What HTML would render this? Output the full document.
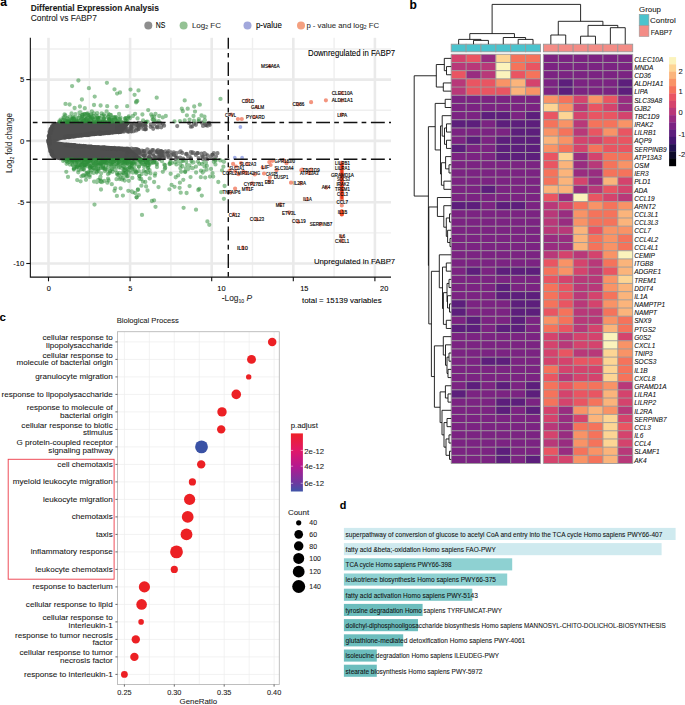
<!DOCTYPE html><html><head><meta charset="utf-8"><style>html,body{margin:0;padding:0;background:#fff;width:685px;height:705px;overflow:hidden}svg{display:block;font-family:"Liberation Sans",sans-serif}text{stroke:currentColor;stroke-width:0.08px}.vl text{stroke-width:0.14px}</style></head><body>
<svg width="685" height="705" viewBox="0 0 685 705">
<g stroke="#efefef" stroke-width="1.4">
<line x1="89.3" y1="37.8" x2="89.3" y2="277.1"/>
<line x1="170.9" y1="37.8" x2="170.9" y2="277.1"/>
<line x1="252.5" y1="37.8" x2="252.5" y2="277.1"/>
<line x1="334.1" y1="37.8" x2="334.1" y2="277.1"/>
<line x1="30.35" y1="48.95" x2="391" y2="48.95"/>
<line x1="30.35" y1="110.25" x2="391" y2="110.25"/>
<line x1="30.35" y1="171.55" x2="391" y2="171.55"/>
<line x1="30.35" y1="232.85" x2="391" y2="232.85"/>
</g>
<g stroke="#eaeaea" stroke-width="2.6">
<line x1="48.5" y1="37.8" x2="48.5" y2="277.1"/>
<line x1="130.1" y1="37.8" x2="130.1" y2="277.1"/>
<line x1="211.7" y1="37.8" x2="211.7" y2="277.1"/>
<line x1="293.3" y1="37.8" x2="293.3" y2="277.1"/>
<line x1="374.9" y1="37.8" x2="374.9" y2="277.1"/>
<line x1="30.35" y1="79.6" x2="391" y2="79.6"/>
<line x1="30.35" y1="140.9" x2="391" y2="140.9"/>
<line x1="30.35" y1="202.2" x2="391" y2="202.2"/>
<line x1="30.35" y1="263.5" x2="391" y2="263.5"/>
</g>
<path d="M47 140.9L47.02 139.59L47.09 138.27L47.21 136.96L47.38 135.65L47.61 134.33L47.88 133.02L48.23 131.71L48.63 130.39L49.12 129.08L49.7 127.76L50.4 126.45L51.25 125.14L52.33 123.82L53.85 122.51L59 121.61L127.65 121.61L130.1 123.49L121.12 133.71L117.97 133.97L114.81 134.23L111.65 134.5L108.49 134.77L105.33 135.05L102.18 135.33L99.02 135.61L95.86 135.91L92.7 136.21L89.54 136.51L86.39 136.83L83.23 137.15L80.07 137.49L76.91 137.84L73.76 138.21L70.6 138.59L67.44 139.01L64.28 139.46L61.12 139.98L57.97 140.68Z" fill="#4f4f4f"/>
<path d="M47 140.9L47.02 142.21L47.1 143.53L47.23 144.84L47.4 146.15L47.64 147.47L47.93 148.78L48.29 150.09L48.73 151.41L49.25 152.72L49.87 154.04L50.62 155.35L51.55 156.66L52.77 157.98L54.62 159.29L60 160.19L139.89 160.19L142.34 158.31L128.47 147.04L124.94 146.86L121.42 146.66L117.89 146.47L114.37 146.27L110.84 146.06L107.32 145.85L103.79 145.63L100.27 145.41L96.74 145.18L93.22 144.94L89.69 144.7L86.17 144.44L82.64 144.17L79.12 143.89L75.59 143.59L72.07 143.27L68.54 142.91L65.02 142.52L61.49 142.05L57.97 141.41Z" fill="#4f4f4f"/>
<path d="M47.6 138.5L56 139.6L59.8 140.85L56 142.1L47.6 143.2Z" fill="#4f4f4f"/>
<path d="M70.26 145.9h0M197.88 153.2h0M205.28 125.05h0M131.86 124.08h0M48.98 136.38h0M88.24 133.9h0M217.49 153.18h0M71.58 136.08h0M121.37 129.79h0M102.49 133.24h0M99.29 132.72h0M119.53 124.18h0M132.43 149.67h0M132.22 127.31h0M69.65 145.91h0M124 149.66h0M76.41 146.16h0M76.94 145.81h0M107.06 132.01h0M120.24 130.9h0M160.71 151.02h0M119.23 129.8h0M118.3 131.24h0M131.1 150.04h0M159.05 152.68h0M113.84 148.85h0M81.29 135.37h0M163.27 152.05h0M138.74 153.38h0M158.92 158.1h0M127.46 152.67h0M68.88 137.22h0M138.04 149.94h0M119.03 148.06h0M177.14 157.67h0M145.23 128.84h0M134.02 151.37h0M98.47 133.3h0M123.67 149.54h0M67.79 145.42h0M119.68 128.47h0M143.91 155.96h0M100.28 133.96h0M133.45 125.85h0M189.07 123.07h0M160.13 152.75h0M203.1 156.66h0M51.28 130.65h0M108.61 148.69h0M79.59 145.71h0M123.8 131.73h0M101.98 148.19h0M50.76 131.53h0M48.38 141.85h0M205.55 158.56h0M121.84 148.59h0M156.99 127.35h0M128.55 131.55h0M66.18 144.62h0M50.37 129.68h0M100.69 132.73h0M119.23 148.28h0M130.74 130.43h0M203.02 125.92h0M148.89 158.33h0M139.09 125.44h0M131.42 131.39h0M195.83 155h0M192.21 126.41h0M50.46 132.6h0M162.69 155.48h0M51.51 154.3h0M136.89 128.57h0M153.22 150.05h0M149.43 152.49h0M125.33 129.66h0M174.13 154.98h0M159.39 123.76h0M135.71 152.5h0M71.54 144.8h0M53.02 124.87h0M134.25 126.67h0M153.34 153.64h0M99.8 133.53h0M198.6 158.03h0M48.71 140.69h0M121.18 131.24h0M87.02 135.19h0M138.08 123.63h0M134.99 149.03h0M143.81 151.15h0M208.94 122.77h0M212.25 154.96h0M67.27 136.93h0M161.26 127.28h0M75.79 146.26h0M112.45 148.78h0M76.03 146.41h0M130.53 149.17h0M136.78 125.21h0M98.78 147.56h0M145.62 126.13h0M68.78 136.35h0M118.27 132.26h0M94.95 147.89h0M207.52 155.28h0M90 134.03h0M165.53 151.44h0M109.24 132.61h0M158.32 127.3h0M143.25 125.57h0M161.85 152.5h0M127.88 148.7h0M160.38 123.14h0M159.98 156.56h0M140.68 124.04h0M135.16 150.28h0M117.15 127.68h0M173.74 152.36h0M50.25 151.27h0M121.97 131.71h0M98.89 147.3h0M130.25 129.13h0M119.85 148.85h0M119.26 148.82h0M139.77 151.35h0M136.63 149.59h0M161.61 152.96h0M210.5 156.53h0M73.95 145.56h0M213.6 159h0M157.53 122.76h0M48.8 140.76h0M159.52 158.27h0M90.43 134.37h0M120.13 124.22h0M117.8 131.11h0M52.18 126.11h0M182.2 152.93h0M139.57 125.76h0M91.13 147.07h0M155.98 152.03h0M159.99 151.23h0M131.82 126.7h0M100.71 148.26h0M216.02 156.36h0M152.69 153.98h0M49.25 143.74h0M116.48 148.48h0M170.99 152.32h0M134.18 151.49h0M105.78 132.18h0M156.19 157.83h0M150.25 158.45h0M163.44 152.76h0M168.62 151.2h0M111.67 148.87h0M117.19 129.94h0M135.44 125.34h0M103.27 148.07h0M132.75 149.9h0M143.3 128.95h0M99.3 133.88h0M103.28 133.36h0M131.56 148.71h0M160.17 153.07h0M72.69 145.2h0M133.72 131.14h0M50.35 150.92h0M133.12 149.88h0M131.48 150.37h0M118.33 124.25h0" stroke="#4d4d4d" stroke-width="4.2" stroke-linecap="round" stroke-opacity="0.68" fill="none"/>
<path d="M84.28 146.77h0M99.59 132.97h0M170.75 158.76h0M51.71 154.11h0M135.55 149.28h0M131.12 125.42h0M94.4 134.12h0M111.66 148.32h0M204.92 123.83h0M73.26 136.42h0M190.98 158.47h0M121.91 131.03h0M153.99 124.51h0M123.84 123.59h0M131.55 128.05h0M75.79 136.31h0M144.16 151.34h0M168.39 157.23h0M89.29 146.89h0M145.97 129.17h0M161.7 154.64h0M158.82 154.35h0M83 135.1h0M69.82 145.75h0M95.2 147.06h0M136.74 149.17h0M102.48 147.79h0M135.93 130.42h0M180.18 157.68h0M139.22 158.72h0M161.2 155.95h0M116.45 149.26h0M126.14 128.56h0M145.78 123.12h0M194.07 123.67h0M145.54 126.12h0M183.07 158.57h0M140.21 153.6h0M143.86 151.47h0M124.22 122.95h0M137.89 153.28h0M159.22 159.14h0M130.7 152.78h0M163.73 158.13h0M127.04 130.77h0M106.82 148.64h0M133.32 149.42h0M135.38 151.43h0M84.93 146.03h0M127.53 151.44h0M79.62 135.32h0M128.81 131.43h0M117.88 148.86h0M106.52 148.4h0M161.01 157.8h0M157.17 126.78h0M48.95 142.79h0M48.82 140.26h0M193.6 152.95h0M49.72 144.3h0M133.72 149.14h0M70.43 136.97h0M125.98 129.71h0M139.24 152.42h0M65.12 145.15h0M192.62 152.43h0M131.32 131.21h0M139.9 158.43h0M120.95 128.79h0M136.51 149.47h0M209.03 123.78h0M68.6 144.7h0M161.07 151.24h0M135.53 149.38h0M171 155.44h0M64.84 137.67h0M144.89 155.07h0M48.67 136.05h0M71.44 136.48h0M135.95 149.41h0M144.1 155.52h0M140.74 154.4h0M118.93 132.17h0M133.59 153.11h0M76.32 136.08h0M213.81 153.08h0M80.05 135.31h0M161.26 156.5h0M70.27 144.93h0M70.08 136.53h0M123.23 126.58h0M207.37 159.14h0M144.38 151.2h0M167.18 154.05h0M137.76 149.58h0M104.12 147.18h0M54.6 157.85h0M90.55 147.42h0M176.12 158.19h0M150.18 158.68h0M166.42 153.61h0M119.65 131.01h0M162.47 151.89h0M95.77 133.49h0M139.18 153.04h0M88.59 134.94h0M116.68 131.6h0M106.53 132.92h0M76.62 135.56h0M150.8 124.27h0M71.11 145.87h0M51.94 126.8h0M175.54 159.1h0M108.96 133.16h0M205.57 154.13h0M100.58 133.88h0M206.07 125.24h0M118.24 131.41h0M160.51 155.08h0M66.29 137.02h0M119.12 125.17h0M74.36 145.19h0M103.53 147.59h0M153.46 155.82h0M82.88 146.51h0M52.93 156.35h0M84.96 134.33h0M158.38 154.36h0M48.27 140.54h0M138.69 128.79h0M136.41 130.48h0M53.94 157.22h0M94.33 147.23h0M91.38 146.96h0M96.52 147.94h0M68.9 144.63h0M127.91 149.19h0M49.73 141.19h0M150.14 153.23h0M78.22 146.42h0M84.29 146.39h0M133.93 158.34h0M52.36 128.2h0M145.22 125.59h0M133.52 156.68h0M90.34 133.72h0M138.41 149.98h0M49.26 137.36h0M152.54 126.11h0M186.77 153.84h0M164.11 125.68h0M135.93 158.51h0M106.99 148.39h0M92.12 133.7h0M83.47 146.12h0M107.66 148.35h0M78.45 135.94h0M85.33 134.62h0M136.27 158.67h0M83.73 146.17h0M72.79 145.62h0M132.17 158.5h0M104.35 148.47h0M150.82 151.53h0M48.58 141.27h0M149.09 156.27h0M162.11 154.58h0M140.48 124.67h0M138.32 125.58h0M204.32 153.13h0M68.61 136.64h0M156.7 151.03h0" stroke="#4d4d4d" stroke-width="4.2" stroke-linecap="round" stroke-opacity="0.68" fill="none"/>
<path d="M138.78 122.83h0M187.95 156.18h0M159.59 153.03h0M81.3 146.9h0M195.94 123.51h0M197.15 153.21h0M141.13 122.89h0M88.03 135.12h0M152.71 159.14h0M130.99 127.02h0M160.54 156.64h0M126.69 156.83h0M117.56 127.99h0M149.5 156.91h0M139.35 152.49h0M190.8 126.65h0M121.13 148.82h0M186.02 154.18h0M95.24 133.79h0M71.18 145.61h0M129.41 149.31h0M129.02 157.41h0M212.57 154.86h0M92.53 133.57h0M50.66 128.88h0M114.73 131.94h0M50.63 129.2h0M74.66 146.28h0M81.37 145.89h0M124.78 122.99h0M74.24 136.49h0M121.18 128.93h0M110.21 132.29h0M80.75 135.11h0M164.14 156.45h0M86.34 135.02h0M97.86 147.01h0M118.83 129.8h0M176.33 153.17h0M145.03 129.36h0M146.59 158.07h0M121.14 127.21h0M49.35 143.54h0M202.83 158.93h0M142.09 150.6h0M106.34 148.59h0M158.4 157.44h0M142.37 154.71h0M67.38 136.58h0M69.38 137.12h0M201.4 153.48h0M125.65 127.63h0M110.8 148.27h0M136.52 153.65h0M180.67 151.43h0M129.3 150.2h0M102.68 133.15h0M127.34 131.5h0M134.2 123.55h0M202.11 155.88h0M133.2 158.9h0M96.4 147.94h0M72.9 136.5h0M189.58 156.63h0M81.87 135.28h0M138.47 129.19h0M157.97 150.18h0M90.87 146.31h0M89.78 147.32h0M104.91 133.38h0M133.01 158.19h0M94.72 147.23h0M149.83 152.47h0M117.08 128.78h0M137.71 149.93h0M126.33 124.1h0M73.04 145.08h0M143.1 124.98h0M88.92 134.28h0M139.13 150.26h0M104.38 147.5h0M152.21 150.17h0M107.31 133.27h0M74.74 135.91h0M120.86 131.83h0M99.1 132.88h0M130.01 151.26h0M161.53 151.28h0M97.39 147.94h0M138.88 128.35h0M66.48 136.42h0M159.64 155.08h0M49.67 140.82h0M123.21 123.15h0M122.95 127.32h0M128.49 128.71h0M126.41 156.04h0M161.46 155.76h0M70.31 145.53h0M66.33 136.33h0M74.65 145.02h0M68.71 137.05h0M162.84 123.78h0M85.96 135.16h0M209.69 124.98h0M106.41 147.91h0M147.77 149.59h0M146.12 153.26h0M175.5 155.39h0M144.81 156.05h0M79.51 145.87h0M49.51 131.75h0M121.21 127.2h0M167.79 152.57h0M114.39 147.97h0M52.45 155.42h0M150.6 126.84h0M157.59 151.95h0M66.92 144.63h0M126.84 148.75h0M138.6 124.18h0M68.67 136.27h0M144.8 124.25h0M126.3 148.79h0M48.52 142.38h0M87.19 134.88h0M142.93 152.66h0M83.62 145.77h0M50.5 132.65h0M48.29 140.49h0M79.04 146.05h0M201.71 122.67h0M195.87 124.82h0M124.55 130.44h0M168.15 155.67h0M147.24 149.47h0M117.1 125.11h0M77.76 145.94h0M65.09 137.26h0M51.59 151.79h0M173.38 154.21h0M155.12 156.74h0M136.38 156.49h0M141.14 126.59h0M134.56 151.58h0M137.1 125.19h0M190.87 152.13h0M88.24 146.52h0M191.73 153.03h0M49.69 131.79h0M112.44 132.53h0M130.29 128.83h0M207.58 125.66h0M123.54 130.93h0M122.8 148.95h0M177.22 126.06h0M153.22 128.82h0M120.48 131.14h0M126.3 149.03h0M179.34 152.27h0M85.12 146.04h0M140.97 151.73h0M117.31 149.16h0M50.57 132.9h0M161.7 152.39h0M75.72 135.4h0M121.67 127.93h0M102.36 147.29h0M142.62 125.25h0M118.48 132.03h0" stroke="#4d4d4d" stroke-width="4.2" stroke-linecap="round" stroke-opacity="0.68" fill="none"/>
<path d="M97.05 159.91h0M126.76 176.45h0M82.06 166.41h0M125.29 119.99h0M97.51 163.5h0M110.88 114.99h0M65.11 121.1h0M117.1 93.6h0M189.6 186.1h0M95.73 169.25h0M106.97 163.21h0M94.16 163.32h0M124.35 161.31h0M72.32 160.68h0M116.49 179.13h0M104.63 116.1h0M72.9 121.35h0M69.6 161.64h0M73.78 168.46h0M60.46 121.52h0M89.6 176.9h0M66.95 121.6h0M70.94 159.72h0M136.6 197.3h0M81.89 116.92h0M134.6 94.8h0M88.01 165.74h0M87.7 117.48h0M101.75 162.86h0M175.72 177.24h0M97.18 113.2h0M64.11 117.85h0M83.88 169.67h0M74.05 162.69h0M110.44 161.82h0M135.1 113.8h0M78.42 169.94h0M135.55 171.33h0M89.03 160.93h0M84.8 108.2h0M129.03 161.13h0M107.4 182.7h0M195.92 166.7h0M89.27 165.87h0M152.94 162.97h0M183.6 207.8h0M88.93 116.84h0M212.56 173.18h0M209.3 224.8h0M81.59 119.31h0M74.77 163.48h0M75.92 163.75h0M215.43 164.43h0M156.7 97.7h0M84.28 120.26h0M103.27 167.89h0M108.52 113.92h0M104.12 117.97h0M98.65 162.8h0M114.72 160.89h0M65.44 115.41h0M65.01 120.8h0M88.37 172.11h0M111.29 164.13h0M155.5 113.8h0M111.09 164.38h0M101 189.5h0M97.88 160.49h0M91.7 166.8h0M128.76 116.41h0M86.68 160.15h0M84.67 164.92h0M87.16 172.74h0M72.34 120.52h0M111.34 160.06h0M195 111.6h0M143.1 160.21h0M70.42 159.84h0M105.34 160.1h0M88.68 121.38h0M97.13 160.14h0M93.68 120.21h0M148.2 110.1h0M109.68 120.5h0M120.56 177.75h0M91.18 114.48h0M86.45 162.61h0M73.35 160.03h0M126.74 159.93h0M82.38 164.42h0M123.66 173.18h0M85.93 164.86h0M63.77 118.64h0M63.96 118.79h0M148.07 167.78h0M73.6 118.75h0M91.74 117.66h0M133.33 162.53h0M83.98 160.53h0M75.83 162.08h0M114.46 161.07h0M116.62 117.42h0M82.38 164.47h0M120.7 167.67h0M98.02 119.49h0M72.59 164.74h0M89.27 115.42h0M102.99 166.61h0M97.87 169.86h0M118.88 161.67h0M179.9 182.7h0M144.86 164.94h0M81.41 121.49h0M114.5 190.8h0M117.4 174.7h0M86.84 165.13h0M74.08 119.34h0M213.2 176.6h0M73.24 159.59h0M124.81 118.72h0M99.7 118h0M118.19 121.82h0M103.86 161.3h0M69.2 121.23h0M119.87 163.8h0M86.18 176.36h0M96.74 168.13h0M104.53 122.21h0M84.19 161.21h0M65.5 103.9h0M104.87 163.36h0M107.4 159.83h0M127.28 163.68h0M84.34 121.62h0M116.6 106.8h0M100.2 159.71h0M122.14 162.62h0M100.74 120.15h0M98.69 168.75h0M79.71 159.8h0M115.54 160.07h0M99.68 163.31h0M121.2 121.85h0M117.54 118.24h0M72.76 159.55h0M112.66 162.34h0M93.87 164.58h0M75.44 114.15h0M124.17 173.09h0M79.99 121.84h0M125.98 173.99h0M106.63 111.31h0M90.08 161.38h0M204.91 120.17h0M109.77 159.99h0M171.6 184.9h0M204.28 121.17h0M96.7 171.64h0M122.09 179.51h0M131.86 168.27h0M223.9 198.8h0M80.11 167.43h0M147.77 160.23h0M78.56 121.16h0M122.9 168.88h0M118.96 163.73h0M198.6 121.1h0M68.47 159.56h0M215.6 160.63h0M143.59 170.87h0M179.9 121.16h0M137.54 118.38h0M100.6 105.5h0M93.72 122.1h0M119.17 161.28h0M131.29 163.44h0M174.5 121.4h0M164.84 168.73h0" stroke="#288c34" stroke-width="4.3" stroke-linecap="round" stroke-opacity="0.5" fill="none"/>
<path d="M71.85 118.83h0M88.74 121.25h0M90.53 166.93h0M165 165.2h0M116.99 163.54h0M76.54 159.84h0M69.49 161.42h0M148.08 167.98h0M182.36 166.26h0M103.65 119.14h0M107.2 106.2h0M108.49 116.65h0M78.5 165.39h0M156.82 164.33h0M100.8 181.6h0M223.37 161.39h0M92.02 169.65h0M210 176.6h0M75.96 122.07h0M90.65 116.92h0M152.02 161.7h0M174.5 186.8h0M132.11 159.69h0M70.41 119.62h0M104.8 161.6h0M109.48 173.09h0M135.2 193.2h0M181.8 108.7h0M91.69 118.18h0M158.64 121.19h0M149.7 161.66h0M120.6 188.3h0M102.98 165.79h0M100.84 167.96h0M180.7 192.7h0M66.92 160.95h0M67.67 162.44h0M94.27 160.09h0M117.53 160.23h0M86.76 114h0M127.55 121.94h0M206.6 169.6h0M82.25 119.04h0M130.48 159.99h0M78.04 160.58h0M68.05 159.86h0M132.89 166.82h0M93.42 161.7h0M84.49 165.16h0M78.74 164.82h0M170.56 161.34h0M84.58 120.46h0M113.72 120.01h0M122.8 172.63h0M97.58 163.34h0M115.92 164.11h0M112.78 162.16h0M101.65 115.79h0M100.05 120.87h0M138.8 171.1h0M115.2 188.3h0M124.92 161.17h0M134.7 164.14h0M74.01 168.54h0M100.83 180.72h0M131.77 162.81h0M165.8 116h0M81.45 176.32h0M134.89 169.38h0M125.7 169.99h0M141.7 174h0M154.1 200.3h0M154.23 116.61h0M162.8 117.4h0M98.48 170.81h0M141.95 160.62h0M91.92 121.12h0M66.77 122.25h0M138.51 160.2h0M126.13 174.91h0M87.34 162.02h0M92.8 161.27h0M124.56 160.77h0M116.59 120.84h0M92.23 169.79h0M66.86 161.32h0M71.99 160.24h0M116.74 161.6h0M100.61 181.6h0M170.61 173.76h0M71.36 119.54h0M94.9 121.91h0M89.81 122.12h0M95.42 165.06h0M108.06 178.67h0M79.01 163.35h0M76.77 121.74h0M199.3 188.9h0M138 189.3h0M147.57 121.55h0M83.87 175.35h0M142 214.9h0M82.44 114.91h0M86.55 116.51h0M64.29 159.83h0M135.1 193h0M102.86 116.94h0M154.09 120.51h0M224.6 186h0M102.43 161.93h0M124.37 169.39h0M129.86 118.14h0M60.28 121.42h0M87.41 120.79h0M98.71 121.72h0M146.1 186.4h0M218.3 182h0M149.5 160.01h0M68.86 162.12h0M69.43 120.39h0M144.77 161.48h0M126.33 170.55h0M90.55 170.45h0M122.75 159.95h0M224.02 161.83h0M141.46 162.68h0M143.95 162.25h0M117.43 161.46h0M92.41 165.53h0M172 162.93h0M125.34 162.39h0M67.46 118.59h0M68 176.9h0M91.19 164.41h0M148.76 162.91h0M111.93 169.08h0M154.8 175.7h0M159.2 116h0M184.7 100.4h0M147.09 162.07h0M140.51 161.38h0M103.56 118.72h0M98.49 118.14h0M120.56 120.71h0M105.79 160.61h0M101.3 164.07h0M143.17 162.2h0M146.92 159.78h0M114.66 160.05h0M93.63 116h0M200.98 170.68h0M81.06 161.81h0M170.12 163.85h0M111.8 184.2h0M199.3 163.8h0M154.26 161.51h0M92.01 161.58h0M88.78 120.23h0M108.46 166.52h0M114.86 120.87h0M129.97 167.26h0M75.93 166.23h0M145.24 160.14h0M183.17 160.77h0M133.87 167.07h0M81.22 119.84h0M96.37 159.78h0M89.42 120.23h0M94.85 117.17h0M109.08 119.12h0M128.35 160.53h0M84.14 159.91h0M77.33 160.96h0M146.73 121.83h0M81.69 161.96h0M153.4 119.6h0M90.83 160.55h0M138.88 166.8h0" stroke="#288c34" stroke-width="4.3" stroke-linecap="round" stroke-opacity="0.5" fill="none"/>
<path d="M111.08 162.56h0M71.78 119.98h0M98.4 179.8h0M111.4 162.78h0M59.23 121.52h0M154.22 162.19h0M146.1 121.8h0M85.17 166.67h0M116.34 161.42h0M121.96 174.83h0M83.98 159.83h0M88.08 173.52h0M97.33 117.37h0M95.88 121.69h0M115.28 119.75h0M101.03 161.86h0M96.71 172.48h0M78.59 117.84h0M142.26 163.83h0M85.56 119.72h0M198.3 190h0M132.35 177.9h0M94.43 119.89h0M190.56 177.09h0M105.52 169.65h0M74.44 119h0M84.44 114.23h0M187.7 108.7h0M125.69 167.91h0M87.73 120.59h0M107.67 121.83h0M116.9 195.9h0M73.42 118.02h0M220.29 160.3h0M71.8 121.13h0M69.6 104.5h0M73.5 160.74h0M189.27 165.3h0M130.47 162.39h0M83.46 169.07h0M192.4 162.49h0M81.9 99.5h0M126.33 118.35h0M94.06 181.6h0M114.45 121.57h0M193.5 162.3h0M102.36 160.29h0M139.5 176.2h0M149.44 163.78h0M113 117.93h0M130.5 89.6h0M76.9 121.62h0M124.73 165.12h0M147.6 161.99h0M154.1 182h0M150.53 173.38h0M90.01 167.84h0M104.82 171h0M102 182h0M94.37 119.03h0M88.11 161.95h0M134.69 162.3h0M78.23 172.36h0M83.41 162.41h0M140.17 160.88h0M113.79 161.35h0M127.54 160.76h0M101.28 162.99h0M108.39 160.83h0M220.01 160.27h0M74.53 120.68h0M101.16 173.29h0M131.8 191.5h0M103.96 118.73h0M87.95 114.86h0M196.1 172.5h0M79.49 112.61h0M94.43 160.67h0M76.8 167.4h0M66.55 163.85h0M139.68 160.02h0M222 170.3h0M90.81 118.71h0M85.6 159.93h0M104.52 162.33h0M179.6 187.8h0M114.68 119.54h0M67.96 122.2h0M83.08 121.16h0M93.18 161.45h0M86 179.8h0M221.2 192.2h0M74.3 121.67h0M101.62 113.39h0M142.89 181.6h0M118.16 160.26h0M114.43 117.61h0M204.34 162.21h0M145.37 163.89h0M111.24 121.36h0M127.81 169.87h0M127.24 162.31h0M108.6 180.5h0M72.8 116.92h0M129 172.56h0M118.36 162.78h0M161.95 161.2h0M116.98 173.27h0M165.25 167.74h0M112.3 162.85h0M71.47 159.68h0M100.66 181.6h0M114.42 166.72h0M95.07 160.77h0M87.01 164.03h0M119.46 161.36h0M134.05 163.19h0M136.6 197.3h0M128.66 161.15h0M106.56 165.14h0M112.65 171.77h0M116.53 166.46h0M132.7 192.2h0M220.5 98.9h0M74.72 160.04h0M107.12 159.64h0M105.56 168.55h0M122.48 160.48h0M76.79 160.04h0M119.6 179.1h0M205.95 162.8h0M143.9 159.89h0M105.29 159.63h0M117.25 122.06h0M100.82 165.89h0M151.9 201h0M96.9 182h0M60.53 119.7h0M104.46 168.05h0M117.75 165.2h0M147.5 190.5h0M80.81 169.56h0M110.61 161.32h0M127.2 106.2h0M105.35 159.68h0M120.45 159.86h0M96.01 181.6h0M201.8 195.6h0M122.41 161.09h0M131.51 165.6h0M90.14 166.42h0M122.44 165.48h0M82.44 163.51h0M151.2 114.5h0M94.27 159.63h0M183.3 179.8h0M109.54 118.86h0M151.68 162.55h0M79.9 106.5h0M124.36 166.96h0M123.26 161.84h0M80.48 112.52h0M164.32 164.72h0M132.9 172.5h0M176.42 164.43h0M187.01 164.81h0M80.2 165.28h0M88.92 160.47h0M113.43 119.97h0M198.86 119.24h0M149.58 170.2h0M123.67 164.84h0M98.52 165.05h0M96 159.98h0M116.4 122.09h0M155.5 206.8h0M87.4 159.81h0M136.4 101.4h0" stroke="#288c34" stroke-width="4.3" stroke-linecap="round" stroke-opacity="0.5" fill="none"/>
<path d="M109.59 160.79h0M118.89 161.9h0M97.19 120.23h0M89.47 117.36h0M77.7 160.85h0M99.27 160.28h0M94 105h0M119.03 159.91h0M119.76 118.84h0M73.83 162.33h0M82.28 116.42h0M111.41 165.94h0M100.41 163.48h0M146.59 165.29h0M91.44 120.67h0M82.36 168.97h0M76.28 118.26h0M105.27 162.09h0M79.85 161.68h0M92.46 167.36h0M109.11 161.58h0M188.16 169.11h0M158.5 187.1h0M185.21 171.52h0M64.67 120.64h0M125.63 118.16h0M185.91 168.41h0M138.8 195.1h0M100.1 178.5h0M80.6 181.3h0M69.84 116.54h0M191.41 160.99h0M91.59 165.24h0M66.98 159.76h0M98.37 168.62h0M119.36 172.84h0M127.96 159.82h0M180.4 168.26h0M74.42 117.77h0M178.75 160.99h0M100.76 160.2h0M138.5 90.4h0M63.16 160.98h0M115.51 117.03h0M94.02 113.43h0M98.34 117.86h0M96.74 115.95h0M108.5 120.2h0M144.1 166.99h0M104.97 168.75h0M149.37 165.06h0M85.95 119.26h0M128.74 180.8h0M71.89 117.93h0M69.88 164.6h0M75.29 160.44h0M94.15 166.89h0M146.59 161.86h0M93.98 168.78h0M96.65 161.61h0M206.85 165.94h0M88.86 120.76h0M123.32 163.16h0M67.25 121.13h0M101.21 160.58h0M139.5 178.8h0M89.04 122.12h0M202.7 172.5h0M189.6 119.6h0M83.95 166.4h0M98.19 162.12h0M103.86 114.28h0M84.41 163.86h0M120 92.5h0M107.59 161.95h0M169.4 189.3h0M100.22 161.37h0M110.48 169.28h0M82.35 115.54h0M82.56 162.35h0M141.36 164.09h0M102.68 162.39h0M119.11 114.02h0M74.31 160.51h0M203.63 171.34h0M76.05 162.17h0M110.02 171.29h0M72.12 160.32h0M115.59 170.23h0M147.59 162.56h0M102.54 160.93h0M114.17 168.13h0M91.45 165.47h0M83 175.4h0M192.8 168.1h0M154.73 120.27h0M68.33 160.22h0M99.14 160.74h0M104.14 162.23h0M97.29 159.79h0M156.64 162.99h0M95.14 165.01h0M128.02 163.85h0M93.5 172.9h0M205.2 177.6h0M128.26 159.69h0M191.35 167.79h0M109.38 119.38h0M145.24 161.15h0M124.42 170.74h0M85.72 160.12h0M197.95 161.53h0M146.96 165.71h0M211 168.9h0M124.67 163.4h0M64.56 114.35h0M107.9 174h0M112.71 167.18h0M87.71 113.43h0M87.72 120.53h0M100.46 176.8h0M79.06 162.75h0M141.4 185.7h0M87.46 164.22h0M78.4 80.5h0M110.67 159.84h0M169.53 164.01h0M68.76 121.75h0M93.97 166.21h0M97.56 169h0M81.13 163.28h0M128.3 190.8h0M106.9 82.8h0M130.97 162.91h0M88.79 160.91h0M186.9 115.3h0M113.31 168.76h0M139.99 160.37h0M83.64 175.58h0M101.93 161.94h0M132.9 116h0M181.91 161h0M102.44 122.16h0M152.65 119.4h0M115.93 164.69h0M77.23 166.97h0M81.78 165.21h0M103.64 160.21h0M95.76 160.22h0M97.56 120.89h0M119.4 161.63h0M124.98 160.84h0M83.02 114.87h0M68.29 121.7h0M207.4 221.4h0M89.75 121.55h0M124.7 180.5h0M142.4 114.5h0M111.82 164.43h0M181.1 171.8h0M112.54 120h0M74.72 120.18h0M106.72 121.95h0M145.53 172.09h0M91 160.1h0M128.15 117.77h0M169.4 163.8h0M101.72 162.23h0M63.36 120.26h0M129.41 166.85h0M94.5 204.6h0M146.1 174h0M193.98 120.63h0M73.09 161.6h0M114.43 163.98h0M136.62 172.03h0M78.85 165.32h0M113.14 159.84h0" stroke="#288c34" stroke-width="4.3" stroke-linecap="round" stroke-opacity="0.5" fill="none"/>
<path d="M71.53 113.38h0M143.1 120.4h0M162.8 171.8h0M116.05 159.58h0M68.55 120.14h0M185.15 172.02h0M122.73 164.45h0M80.71 120.19h0M110.64 162.63h0M111.46 118.45h0M98.65 122.1h0M129.8 170.51h0M152.29 116.5h0M134.46 161.94h0M215.23 159.95h0M124.19 167.22h0M115.7 119.06h0M68 119.63h0M125.3 121.51h0M182.8 111.2h0M73.16 118.61h0M85.52 164.23h0M113.48 117.25h0M83.37 161.35h0M84.43 160.73h0M127.52 163.5h0M80.9 118.47h0M186.2 161.6h0M132.61 169.03h0M65.06 120.99h0M175.3 162.3h0M106.45 162.89h0M72.1 86.1h0M88.03 162.37h0M86.48 173.25h0M107.96 117.46h0M154.93 159.92h0M84.49 114.08h0M120.51 117.53h0M142.92 159.69h0M91.85 111.37h0M156.95 167.01h0M80.32 165.82h0M74.6 108h0M83.03 119.42h0M147.9 165.18h0M80.54 121.17h0M94.7 96.6h0M95.89 167.11h0M109.37 114.8h0M103.1 168.33h0M101.05 122.26h0M121.77 166h0M89.62 167.96h0M111.05 160.44h0M93.44 163h0M82.17 165.63h0M136.11 161.7h0M84.68 163.07h0M73.85 169.6h0M184.7 120.4h0M98.48 162.81h0M66.7 118.01h0M146.36 161.16h0M125.76 172.45h0M82.51 159.77h0M93.07 168.18h0M201.5 115.5h0M118.95 167.41h0M196 209.7h0M76.67 120.71h0M122.73 159.92h0M81.75 164.47h0M90.58 172.51h0M186.6 193h0M81.39 163.37h0M89.62 175.14h0M105.08 159.83h0M148.13 163.87h0M127.47 169.05h0M76.18 166.46h0M178.2 175.4h0M204.5 166.4h0M111.25 160.74h0M145.86 162.26h0M77.2 180.1h0M123.13 162.77h0M149.7 178.4h0M139.2 162.11h0M201.92 163.99h0M84.78 117.37h0M110.3 115.06h0M106.47 169.7h0M111.19 117.82h0M66.82 161.08h0M109.25 163.18h0M136.66 162.42h0M90.53 115.39h0M223.4 166.7h0M119.42 163.36h0M141.2 178.98h0M199.8 104.7h0M76.25 160.48h0M148.29 161.3h0M146.7 171.57h0M137.47 162.64h0M84.44 160.75h0M137.41 159.55h0M63.41 117.44h0M129.63 167.6h0M120.7 162.29h0M137.8 190h0M104.37 121.73h0M213.85 161.74h0M118.44 175.02h0M145.3 182h0M85.54 121.11h0M194.2 106.5h0M137.27 164.59h0M98.69 163.93h0M127.77 176.16h0M79.77 115.9h0M102.2 161.49h0M131.81 164.45h0M135.98 162.22h0M122.9 195.6h0M87.44 174.43h0M155.25 173.62h0M66.85 161.11h0M97.92 118.72h0M94.07 167.81h0M100.66 164.54h0M77.02 162.31h0M140.6 159.98h0M72.61 164.9h0M141.09 160.47h0M117.14 159.64h0M138.88 166.49h0M180.4 164.5h0M123.16 178.05h0M72.23 161.75h0M107.85 117.61h0M96.59 164.2h0M136.17 172.88h0M91.24 160.86h0M126.44 120.66h0M148.2 172.1h0M109.97 171.27h0M92.64 117.43h0M73.64 120.45h0M170.21 162.84h0M96.25 168.89h0M84.76 165.02h0M66.3 171.8h0M117.36 159.74h0M111.61 121.91h0M80.05 159.77h0M139.13 175.81h0M104.34 162.11h0M204.5 116.7h0M104.23 180.97h0M200.8 177.2h0M132.15 163.69h0M137.3 101h0M136.1 102.4h0M114.5 89.3h0M125.76 161.04h0M136.88 160.57h0M193.5 116h0M111.71 164.72h0M115.2 160.32h0M120.28 162.17h0M88.9 88.2h0M137.47 159.55h0" stroke="#288c34" stroke-width="4.3" stroke-linecap="round" stroke-opacity="0.5" fill="none"/>
<path d="M234.8 157.7h0M242.1 157.7h0M240.4 127h0" stroke="#5a6fd6" stroke-width="3.8" stroke-linecap="round" stroke-opacity="0.55" fill="none"/>
<path d="M269.6 66.2h0M341.6 93h0M341.6 100.4h0M311.1 102.2h0M325.9 100.3h0M298.2 104.3h0M247.8 100.4h0M257.2 107.1h0M341.6 114.6h0M231.2 114.6h0M237.9 119h0M241.8 119h0M254.7 117h0M233.1 163.9h0M241 163h0M247.6 163.9h0M235.1 171.5h0M238.4 174.2h0M246.3 172.9h0M254.8 174.4h0M262.7 167.6h0M269.3 162.1h0M270.6 165h0M264 173.5h0M269.9 177.5h0M269.3 181.4h0M276.5 170.2h0M283.7 160.4h0M291 182.7h0" stroke="#e82c00" stroke-width="4.2" stroke-linecap="round" stroke-opacity="0.5" fill="none"/>
<path d="M252.2 183.4h0M247.6 188.6h0M235.1 188.6h0M230.5 192.6h0M302.1 169.6h0M309.4 172.9h0M301.3 170.2h0M308.5 172.9h0M311.2 169.6h0M300.7 183.4h0M326.3 187.6h0M306.9 199.2h0M280.3 204.4h0M289 212.4h0M233.7 214.4h0M256.7 219.3h0M298.2 221.8h0M320.5 224.3h0M341.6 236.7h0M341.9 241h0M242.8 247.6h0M236 166.5h0M243.5 171.8h0M229.5 170.5h0M341.8 205.5h0M341.8 211.5h0M341.8 214.2h0M272.5 160.8h0M286.5 163.2h0" stroke="#e82c00" stroke-width="4.2" stroke-linecap="round" stroke-opacity="0.5" fill="none"/>
<path d="M341.8 162.8V199.2" stroke="#e82c00" stroke-opacity="0.55" stroke-width="4.3" stroke-linecap="round"/>
<path d="M341.8 164V198" stroke="#e42a0c" stroke-opacity="0.85" stroke-width="2.6" stroke-linecap="round"/>
<path d="M341.8 211.3V214.4" stroke="#e82c00" stroke-opacity="0.7" stroke-width="4.2" stroke-linecap="round"/>
<g stroke="#111" stroke-width="1.4" fill="none" stroke-dasharray="13.9 4.2 4.7 4.6">
<line x1="30.35" y1="122.51" x2="391" y2="122.51" stroke-dashoffset="15.65"/>
<line x1="30.35" y1="159.29" x2="391" y2="159.29" stroke-dashoffset="15.65"/>
<line x1="228.3" y1="37.8" x2="228.3" y2="277.1" stroke-dashoffset="3"/>
</g>
<g class="vl">
<text x="261" y="68.3" font-size="4.71" textLength="18.6" lengthAdjust="spacingAndGlyphs" fill="#000">MS4A6A</text>
<text x="331.7" y="94.6" font-size="4.71" textLength="21.1" lengthAdjust="spacingAndGlyphs" fill="#000">CLEC10A</text>
<text x="331.7" y="102" font-size="4.71" textLength="21.1" lengthAdjust="spacingAndGlyphs" fill="#000">ALDH1A1</text>
<text x="292.5" y="106.2" font-size="4.71" textLength="11.9" lengthAdjust="spacingAndGlyphs" fill="#000">CD86</text>
<text x="241.8" y="102.5" font-size="4.71" textLength="12.5" lengthAdjust="spacingAndGlyphs" fill="#000">CD1D</text>
<text x="251" y="108.7" font-size="4.71" textLength="13.2" lengthAdjust="spacingAndGlyphs" fill="#000">GALM</text>
<text x="337.2" y="116.6" font-size="4.71" textLength="9.9" lengthAdjust="spacingAndGlyphs" fill="#000">LIPA</text>
<text x="225" y="116.6" font-size="4.71" textLength="11.1" lengthAdjust="spacingAndGlyphs" fill="#000">CPVL</text>
<text x="246.1" y="119.1" font-size="4.71" textLength="18.6" lengthAdjust="spacingAndGlyphs" fill="#000">PYCARD</text>
<text x="239.7" y="165.5" font-size="4.71" textLength="16.4" lengthAdjust="spacingAndGlyphs" fill="#000">SLC2A3</text>
<text x="229.2" y="169.6" font-size="4.71" textLength="15.1" lengthAdjust="spacingAndGlyphs" fill="#000">SLC2A1</text>
<text x="222.6" y="175.1" font-size="4.71" textLength="14.4" lengthAdjust="spacingAndGlyphs" fill="#000">CCRL2</text>
<text x="237.5" y="175.1" font-size="4.71" textLength="22.6" lengthAdjust="spacingAndGlyphs" fill="#000">MIR3142HG</text>
<text x="274.5" y="163.3" font-size="4.71" textLength="20.4" lengthAdjust="spacingAndGlyphs" fill="#000">GPR183/0</text>
<text x="261.4" y="169.2" font-size="4.71" textLength="7.9" lengthAdjust="spacingAndGlyphs" fill="#000">LIF</text>
<text x="274.5" y="169.9" font-size="4.71" textLength="19.1" lengthAdjust="spacingAndGlyphs" fill="#000">SLC30A4</text>
<text x="266" y="175.5" font-size="4.71" textLength="11.8" lengthAdjust="spacingAndGlyphs" fill="#000">CASP5</text>
<text x="273.9" y="179.3" font-size="4.71" textLength="14.4" lengthAdjust="spacingAndGlyphs" fill="#000">DUSP1</text>
<text x="264.7" y="183.6" font-size="4.71" textLength="9.2" lengthAdjust="spacingAndGlyphs" fill="#000">EBI3</text>
<text x="243.7" y="185.6" font-size="4.71" textLength="19.7" lengthAdjust="spacingAndGlyphs" fill="#000">CYP27B1</text>
<text x="241.7" y="190.6" font-size="4.71" textLength="11.8" lengthAdjust="spacingAndGlyphs" fill="#000">MT1F</text>
<text x="293.6" y="184.6" font-size="4.71" textLength="12.5" lengthAdjust="spacingAndGlyphs" fill="#000">IL2RA</text>
<text x="222.6" y="194.2" font-size="4.71" textLength="17.8" lengthAdjust="spacingAndGlyphs" fill="#000">TNFAIP6</text>
<text x="302.6" y="171.6" font-size="4.71" textLength="17.1" lengthAdjust="spacingAndGlyphs" fill="#000">TBC1D9</text>
<text x="300" y="175.1" font-size="4.71" textLength="18.4" lengthAdjust="spacingAndGlyphs" fill="#000">ATP13A3</text>
<text x="321.7" y="189.2" font-size="4.71" textLength="8.5" lengthAdjust="spacingAndGlyphs" fill="#000">AK4</text>
<text x="335.1" y="164.9" font-size="4.71" textLength="14.8" lengthAdjust="spacingAndGlyphs" fill="#000">LILRB1</text>
<text x="335.1" y="169.6" font-size="4.71" textLength="14.8" lengthAdjust="spacingAndGlyphs" fill="#000">LILRA1</text>
<text x="331" y="177.1" font-size="4.71" textLength="22.9" lengthAdjust="spacingAndGlyphs" fill="#000">GRAMD1A</text>
<text x="337.1" y="180.8" font-size="4.71" textLength="12.8" lengthAdjust="spacingAndGlyphs" fill="#000">SOCS3</text>
<text x="336.4" y="185.9" font-size="4.71" textLength="12.8" lengthAdjust="spacingAndGlyphs" fill="#000">IRAK2</text>
<text x="335.1" y="190.9" font-size="4.71" textLength="14.8" lengthAdjust="spacingAndGlyphs" fill="#000">TREM1</text>
<text x="337.1" y="195.6" font-size="4.71" textLength="10.8" lengthAdjust="spacingAndGlyphs" fill="#000">CCL3</text>
<text x="336.4" y="203.7" font-size="4.71" textLength="11.5" lengthAdjust="spacingAndGlyphs" fill="#000">CCL7</text>
<text x="337.8" y="214.2" font-size="4.71" textLength="9.4" lengthAdjust="spacingAndGlyphs" fill="#000">IL1B</text>
<text x="339.1" y="238" font-size="4.71" textLength="6.1" lengthAdjust="spacingAndGlyphs" fill="#000">IL6</text>
<text x="335.1" y="243.1" font-size="4.71" textLength="14.1" lengthAdjust="spacingAndGlyphs" fill="#000">CXCL1</text>
<text x="303.1" y="200.8" font-size="4.71" textLength="8.7" lengthAdjust="spacingAndGlyphs" fill="#000">IL1A</text>
<text x="275.8" y="206.5" font-size="4.71" textLength="9.2" lengthAdjust="spacingAndGlyphs" fill="#000">MET</text>
<text x="282" y="215.2" font-size="4.71" textLength="13.7" lengthAdjust="spacingAndGlyphs" fill="#000">ETV3L</text>
<text x="228.7" y="216.5" font-size="4.71" textLength="11.2" lengthAdjust="spacingAndGlyphs" fill="#000">CA12</text>
<text x="249.8" y="220.9" font-size="4.71" textLength="14.4" lengthAdjust="spacingAndGlyphs" fill="#000">CCL23</text>
<text x="292" y="223.4" font-size="4.71" textLength="13.6" lengthAdjust="spacingAndGlyphs" fill="#000">CCL19</text>
<text x="309.8" y="225.9" font-size="4.71" textLength="22.4" lengthAdjust="spacingAndGlyphs" fill="#000">SERPINB7</text>
<text x="236.9" y="249.5" font-size="4.71" textLength="10.9" lengthAdjust="spacingAndGlyphs" fill="#000">IL10</text>
</g>
<g stroke="#111" stroke-width="1.1" fill="none">
<path d="M30.35 37.8V277.1H391"/>
<line x1="26.3" y1="79.6" x2="30.35" y2="79.6"/>
<line x1="26.3" y1="140.9" x2="30.35" y2="140.9"/>
<line x1="26.3" y1="202.2" x2="30.35" y2="202.2"/>
<line x1="26.3" y1="263.5" x2="30.35" y2="263.5"/>
<line x1="48.5" y1="277.1" x2="48.5" y2="281.3"/>
<line x1="130.1" y1="277.1" x2="130.1" y2="281.3"/>
<line x1="211.7" y1="277.1" x2="211.7" y2="281.3"/>
<line x1="293.3" y1="277.1" x2="293.3" y2="281.3"/>
<line x1="374.9" y1="277.1" x2="374.9" y2="281.3"/>
</g>
<text x="24.4" y="82.35" font-size="7.7" text-anchor="end">5</text>
<text x="24.4" y="143.65" font-size="7.7" text-anchor="end">0</text>
<text x="24.4" y="204.95" font-size="7.7" text-anchor="end">-5</text>
<text x="24.4" y="266.25" font-size="7.7" text-anchor="end">-10</text>
<text x="48.8" y="290.9" font-size="7.4" text-anchor="middle">0</text>
<text x="130.4" y="290.9" font-size="7.4" text-anchor="middle">5</text>
<text x="221.4" y="290.9" font-size="7.4" text-anchor="middle">10</text>
<text x="304.3" y="290.9" font-size="7.4" text-anchor="middle">15</text>
<text x="384.2" y="290.9" font-size="7.4" text-anchor="middle">20</text>
<text transform="translate(12.1 143.05) rotate(-90)" font-size="8.2" text-anchor="middle" fill="#333" textLength="59.9" lengthAdjust="spacingAndGlyphs">Log<tspan font-size="5" dy="1.5">2</tspan><tspan dy="-1.5"> fold change</tspan></text>
<text x="221.7" y="301.3" font-size="8.4" fill="#333">-Log<tspan font-size="5.2" dy="1.5">10</tspan><tspan dy="-1.5" font-style="italic"> P</tspan></text>
<text x="302" y="303.2" font-size="8" textLength="79.6" lengthAdjust="spacingAndGlyphs">total = 15139 variables</text>
<text x="308" y="55.9" font-size="8.14" textLength="87.2" lengthAdjust="spacingAndGlyphs">Downregulated in FABP7</text>
<text x="313.9" y="263.9" font-size="8" textLength="81.3" lengthAdjust="spacingAndGlyphs">Unpregulated in FABP7</text>
<text x="30.7" y="10.8" font-size="8.14" font-weight="bold" textLength="128.2" lengthAdjust="spacingAndGlyphs" fill="#222">Differential Expression Analysis</text>
<text x="30.7" y="21" font-size="8.29" textLength="66.2" lengthAdjust="spacingAndGlyphs" fill="#222">Control vs FABP7</text>
<circle cx="148.3" cy="25.5" r="4" fill="#8e8e8e"/>
<circle cx="183.6" cy="25.5" r="4" fill="#94c294"/>
<circle cx="247.5" cy="25.5" r="4" fill="#a2a8dc"/>
<circle cx="301" cy="25.5" r="4" fill="#f4a080"/>
<text x="155.7" y="28.1" font-size="8.14" textLength="9.6" lengthAdjust="spacingAndGlyphs">NS</text>
<text x="191.9" y="28.1" font-size="8" fill="#333">Log<tspan font-size="5.2" dy="1.2">2</tspan><tspan dy="-1.2"> FC</tspan></text>
<text x="255.9" y="28.1" font-size="8.14" textLength="25.9" lengthAdjust="spacingAndGlyphs">p-value</text>
<text x="306.4" y="28.1" font-size="8" fill="#333" textLength="72.6" lengthAdjust="spacingAndGlyphs">p - value and log<tspan font-size="5.2" dy="1.2">2</tspan><tspan dy="-1.2"> FC</tspan></text>
<rect x="451.2" y="54.3" width="14.88" height="8.18" fill="#d4436d"/>
<rect x="466.08" y="54.3" width="14.88" height="8.18" fill="#e95562"/>
<rect x="480.96" y="54.3" width="14.88" height="8.18" fill="#982c80"/>
<rect x="495.84" y="54.3" width="14.88" height="8.18" fill="#fdd594"/>
<rect x="510.72" y="54.3" width="14.88" height="8.18" fill="#f5735b"/>
<rect x="525.6" y="54.3" width="14.88" height="8.18" fill="#f5735b"/>
<rect x="543.4" y="54.3" width="14.88" height="8.18" fill="#7b2382"/>
<rect x="558.28" y="54.3" width="14.88" height="8.18" fill="#7b2382"/>
<rect x="573.16" y="54.3" width="14.88" height="8.18" fill="#7b2382"/>
<rect x="588.04" y="54.3" width="14.88" height="8.18" fill="#7b2382"/>
<rect x="602.92" y="54.3" width="14.88" height="8.18" fill="#7b2382"/>
<rect x="617.8" y="54.3" width="14.88" height="8.18" fill="#7b2382"/>
<rect x="451.2" y="62.48" width="14.88" height="8.18" fill="#b83879"/>
<rect x="466.08" y="62.48" width="14.88" height="8.18" fill="#b83879"/>
<rect x="480.96" y="62.48" width="14.88" height="8.18" fill="#b83879"/>
<rect x="495.84" y="62.48" width="14.88" height="8.18" fill="#fbf3bc"/>
<rect x="510.72" y="62.48" width="14.88" height="8.18" fill="#f5735b"/>
<rect x="525.6" y="62.48" width="14.88" height="8.18" fill="#e95562"/>
<rect x="543.4" y="62.48" width="14.88" height="8.18" fill="#7b2382"/>
<rect x="558.28" y="62.48" width="14.88" height="8.18" fill="#7b2382"/>
<rect x="573.16" y="62.48" width="14.88" height="8.18" fill="#7b2382"/>
<rect x="588.04" y="62.48" width="14.88" height="8.18" fill="#7b2382"/>
<rect x="602.92" y="62.48" width="14.88" height="8.18" fill="#7b2382"/>
<rect x="617.8" y="62.48" width="14.88" height="8.18" fill="#7b2382"/>
<rect x="451.2" y="70.67" width="14.88" height="8.18" fill="#e95562"/>
<rect x="466.08" y="70.67" width="14.88" height="8.18" fill="#982c80"/>
<rect x="480.96" y="70.67" width="14.88" height="8.18" fill="#b83879"/>
<rect x="495.84" y="70.67" width="14.88" height="8.18" fill="#fbf3bc"/>
<rect x="510.72" y="70.67" width="14.88" height="8.18" fill="#e95562"/>
<rect x="525.6" y="70.67" width="14.88" height="8.18" fill="#f5735b"/>
<rect x="543.4" y="70.67" width="14.88" height="8.18" fill="#7b2382"/>
<rect x="558.28" y="70.67" width="14.88" height="8.18" fill="#7b2382"/>
<rect x="573.16" y="70.67" width="14.88" height="8.18" fill="#7b2382"/>
<rect x="588.04" y="70.67" width="14.88" height="8.18" fill="#7b2382"/>
<rect x="602.92" y="70.67" width="14.88" height="8.18" fill="#7b2382"/>
<rect x="617.8" y="70.67" width="14.88" height="8.18" fill="#7b2382"/>
<rect x="451.2" y="78.85" width="14.88" height="8.18" fill="#b83879"/>
<rect x="466.08" y="78.85" width="14.88" height="8.18" fill="#e95562"/>
<rect x="480.96" y="78.85" width="14.88" height="8.18" fill="#e95562"/>
<rect x="495.84" y="78.85" width="14.88" height="8.18" fill="#f99366"/>
<rect x="510.72" y="78.85" width="14.88" height="8.18" fill="#fbb47b"/>
<rect x="525.6" y="78.85" width="14.88" height="8.18" fill="#d4436d"/>
<rect x="543.4" y="78.85" width="14.88" height="8.18" fill="#7b2382"/>
<rect x="558.28" y="78.85" width="14.88" height="8.18" fill="#5d1e7c"/>
<rect x="573.16" y="78.85" width="14.88" height="8.18" fill="#7b2382"/>
<rect x="588.04" y="78.85" width="14.88" height="8.18" fill="#7b2382"/>
<rect x="602.92" y="78.85" width="14.88" height="8.18" fill="#7b2382"/>
<rect x="617.8" y="78.85" width="14.88" height="8.18" fill="#5d1e7c"/>
<rect x="451.2" y="87.04" width="14.88" height="8.18" fill="#b83879"/>
<rect x="466.08" y="87.04" width="14.88" height="8.18" fill="#e95562"/>
<rect x="480.96" y="87.04" width="14.88" height="8.18" fill="#e95562"/>
<rect x="495.84" y="87.04" width="14.88" height="8.18" fill="#e95562"/>
<rect x="510.72" y="87.04" width="14.88" height="8.18" fill="#fbb47b"/>
<rect x="525.6" y="87.04" width="14.88" height="8.18" fill="#f99366"/>
<rect x="543.4" y="87.04" width="14.88" height="8.18" fill="#7b2382"/>
<rect x="558.28" y="87.04" width="14.88" height="8.18" fill="#5d1e7c"/>
<rect x="573.16" y="87.04" width="14.88" height="8.18" fill="#7b2382"/>
<rect x="588.04" y="87.04" width="14.88" height="8.18" fill="#7b2382"/>
<rect x="602.92" y="87.04" width="14.88" height="8.18" fill="#7b2382"/>
<rect x="617.8" y="87.04" width="14.88" height="8.18" fill="#5d1e7c"/>
<rect x="451.2" y="95.22" width="14.88" height="8.18" fill="#7b2382"/>
<rect x="466.08" y="95.22" width="14.88" height="8.18" fill="#7b2382"/>
<rect x="480.96" y="95.22" width="14.88" height="8.18" fill="#7b2382"/>
<rect x="495.84" y="95.22" width="14.88" height="8.18" fill="#7b2382"/>
<rect x="510.72" y="95.22" width="14.88" height="8.18" fill="#7b2382"/>
<rect x="525.6" y="95.22" width="14.88" height="8.18" fill="#7b2382"/>
<rect x="543.4" y="95.22" width="14.88" height="8.18" fill="#f99366"/>
<rect x="558.28" y="95.22" width="14.88" height="8.18" fill="#f5735b"/>
<rect x="573.16" y="95.22" width="14.88" height="8.18" fill="#d4436d"/>
<rect x="588.04" y="95.22" width="14.88" height="8.18" fill="#f99366"/>
<rect x="602.92" y="95.22" width="14.88" height="8.18" fill="#e95562"/>
<rect x="617.8" y="95.22" width="14.88" height="8.18" fill="#982c80"/>
<rect x="451.2" y="103.4" width="14.88" height="8.18" fill="#7b2382"/>
<rect x="466.08" y="103.4" width="14.88" height="8.18" fill="#7b2382"/>
<rect x="480.96" y="103.4" width="14.88" height="8.18" fill="#7b2382"/>
<rect x="495.84" y="103.4" width="14.88" height="8.18" fill="#7b2382"/>
<rect x="510.72" y="103.4" width="14.88" height="8.18" fill="#7b2382"/>
<rect x="525.6" y="103.4" width="14.88" height="8.18" fill="#7b2382"/>
<rect x="543.4" y="103.4" width="14.88" height="8.18" fill="#fdd594"/>
<rect x="558.28" y="103.4" width="14.88" height="8.18" fill="#f99366"/>
<rect x="573.16" y="103.4" width="14.88" height="8.18" fill="#b83879"/>
<rect x="588.04" y="103.4" width="14.88" height="8.18" fill="#e95562"/>
<rect x="602.92" y="103.4" width="14.88" height="8.18" fill="#d4436d"/>
<rect x="617.8" y="103.4" width="14.88" height="8.18" fill="#982c80"/>
<rect x="451.2" y="111.59" width="14.88" height="8.18" fill="#7b2382"/>
<rect x="466.08" y="111.59" width="14.88" height="8.18" fill="#7b2382"/>
<rect x="480.96" y="111.59" width="14.88" height="8.18" fill="#5d1e7c"/>
<rect x="495.84" y="111.59" width="14.88" height="8.18" fill="#5d1e7c"/>
<rect x="510.72" y="111.59" width="14.88" height="8.18" fill="#7b2382"/>
<rect x="525.6" y="111.59" width="14.88" height="8.18" fill="#5d1e7c"/>
<rect x="543.4" y="111.59" width="14.88" height="8.18" fill="#e95562"/>
<rect x="558.28" y="111.59" width="14.88" height="8.18" fill="#fdd594"/>
<rect x="573.16" y="111.59" width="14.88" height="8.18" fill="#d4436d"/>
<rect x="588.04" y="111.59" width="14.88" height="8.18" fill="#e95562"/>
<rect x="602.92" y="111.59" width="14.88" height="8.18" fill="#e95562"/>
<rect x="617.8" y="111.59" width="14.88" height="8.18" fill="#d4436d"/>
<rect x="451.2" y="119.77" width="14.88" height="8.18" fill="#5d1e7c"/>
<rect x="466.08" y="119.77" width="14.88" height="8.18" fill="#5d1e7c"/>
<rect x="480.96" y="119.77" width="14.88" height="8.18" fill="#7b2382"/>
<rect x="495.84" y="119.77" width="14.88" height="8.18" fill="#5d1e7c"/>
<rect x="510.72" y="119.77" width="14.88" height="8.18" fill="#5d1e7c"/>
<rect x="525.6" y="119.77" width="14.88" height="8.18" fill="#5d1e7c"/>
<rect x="543.4" y="119.77" width="14.88" height="8.18" fill="#f5735b"/>
<rect x="558.28" y="119.77" width="14.88" height="8.18" fill="#f99366"/>
<rect x="573.16" y="119.77" width="14.88" height="8.18" fill="#b83879"/>
<rect x="588.04" y="119.77" width="14.88" height="8.18" fill="#f5735b"/>
<rect x="602.92" y="119.77" width="14.88" height="8.18" fill="#f5735b"/>
<rect x="617.8" y="119.77" width="14.88" height="8.18" fill="#f99366"/>
<rect x="451.2" y="127.96" width="14.88" height="8.18" fill="#7b2382"/>
<rect x="466.08" y="127.96" width="14.88" height="8.18" fill="#7b2382"/>
<rect x="480.96" y="127.96" width="14.88" height="8.18" fill="#7b2382"/>
<rect x="495.84" y="127.96" width="14.88" height="8.18" fill="#7b2382"/>
<rect x="510.72" y="127.96" width="14.88" height="8.18" fill="#5d1e7c"/>
<rect x="525.6" y="127.96" width="14.88" height="8.18" fill="#5d1e7c"/>
<rect x="543.4" y="127.96" width="14.88" height="8.18" fill="#f99366"/>
<rect x="558.28" y="127.96" width="14.88" height="8.18" fill="#f5735b"/>
<rect x="573.16" y="127.96" width="14.88" height="8.18" fill="#b83879"/>
<rect x="588.04" y="127.96" width="14.88" height="8.18" fill="#e95562"/>
<rect x="602.92" y="127.96" width="14.88" height="8.18" fill="#f99366"/>
<rect x="617.8" y="127.96" width="14.88" height="8.18" fill="#e95562"/>
<rect x="451.2" y="136.14" width="14.88" height="8.18" fill="#7b2382"/>
<rect x="466.08" y="136.14" width="14.88" height="8.18" fill="#5d1e7c"/>
<rect x="480.96" y="136.14" width="14.88" height="8.18" fill="#7b2382"/>
<rect x="495.84" y="136.14" width="14.88" height="8.18" fill="#5d1e7c"/>
<rect x="510.72" y="136.14" width="14.88" height="8.18" fill="#5d1e7c"/>
<rect x="525.6" y="136.14" width="14.88" height="8.18" fill="#5d1e7c"/>
<rect x="543.4" y="136.14" width="14.88" height="8.18" fill="#fbb47b"/>
<rect x="558.28" y="136.14" width="14.88" height="8.18" fill="#f99366"/>
<rect x="573.16" y="136.14" width="14.88" height="8.18" fill="#d4436d"/>
<rect x="588.04" y="136.14" width="14.88" height="8.18" fill="#d4436d"/>
<rect x="602.92" y="136.14" width="14.88" height="8.18" fill="#e95562"/>
<rect x="617.8" y="136.14" width="14.88" height="8.18" fill="#e95562"/>
<rect x="451.2" y="144.32" width="14.88" height="8.18" fill="#5d1e7c"/>
<rect x="466.08" y="144.32" width="14.88" height="8.18" fill="#7b2382"/>
<rect x="480.96" y="144.32" width="14.88" height="8.18" fill="#7b2382"/>
<rect x="495.84" y="144.32" width="14.88" height="8.18" fill="#5d1e7c"/>
<rect x="510.72" y="144.32" width="14.88" height="8.18" fill="#5d1e7c"/>
<rect x="525.6" y="144.32" width="14.88" height="8.18" fill="#5d1e7c"/>
<rect x="543.4" y="144.32" width="14.88" height="8.18" fill="#f99366"/>
<rect x="558.28" y="144.32" width="14.88" height="8.18" fill="#f5735b"/>
<rect x="573.16" y="144.32" width="14.88" height="8.18" fill="#d4436d"/>
<rect x="588.04" y="144.32" width="14.88" height="8.18" fill="#f5735b"/>
<rect x="602.92" y="144.32" width="14.88" height="8.18" fill="#e95562"/>
<rect x="617.8" y="144.32" width="14.88" height="8.18" fill="#e95562"/>
<rect x="451.2" y="152.51" width="14.88" height="8.18" fill="#7b2382"/>
<rect x="466.08" y="152.51" width="14.88" height="8.18" fill="#7b2382"/>
<rect x="480.96" y="152.51" width="14.88" height="8.18" fill="#7b2382"/>
<rect x="495.84" y="152.51" width="14.88" height="8.18" fill="#5d1e7c"/>
<rect x="510.72" y="152.51" width="14.88" height="8.18" fill="#5d1e7c"/>
<rect x="525.6" y="152.51" width="14.88" height="8.18" fill="#5d1e7c"/>
<rect x="543.4" y="152.51" width="14.88" height="8.18" fill="#e95562"/>
<rect x="558.28" y="152.51" width="14.88" height="8.18" fill="#fdd594"/>
<rect x="573.16" y="152.51" width="14.88" height="8.18" fill="#982c80"/>
<rect x="588.04" y="152.51" width="14.88" height="8.18" fill="#d4436d"/>
<rect x="602.92" y="152.51" width="14.88" height="8.18" fill="#f5735b"/>
<rect x="617.8" y="152.51" width="14.88" height="8.18" fill="#f5735b"/>
<rect x="451.2" y="160.69" width="14.88" height="8.18" fill="#7b2382"/>
<rect x="466.08" y="160.69" width="14.88" height="8.18" fill="#7b2382"/>
<rect x="480.96" y="160.69" width="14.88" height="8.18" fill="#7b2382"/>
<rect x="495.84" y="160.69" width="14.88" height="8.18" fill="#7b2382"/>
<rect x="510.72" y="160.69" width="14.88" height="8.18" fill="#7b2382"/>
<rect x="525.6" y="160.69" width="14.88" height="8.18" fill="#7b2382"/>
<rect x="543.4" y="160.69" width="14.88" height="8.18" fill="#e95562"/>
<rect x="558.28" y="160.69" width="14.88" height="8.18" fill="#fbb47b"/>
<rect x="573.16" y="160.69" width="14.88" height="8.18" fill="#982c80"/>
<rect x="588.04" y="160.69" width="14.88" height="8.18" fill="#b83879"/>
<rect x="602.92" y="160.69" width="14.88" height="8.18" fill="#f5735b"/>
<rect x="617.8" y="160.69" width="14.88" height="8.18" fill="#f99366"/>
<rect x="451.2" y="168.88" width="14.88" height="8.18" fill="#7b2382"/>
<rect x="466.08" y="168.88" width="14.88" height="8.18" fill="#7b2382"/>
<rect x="480.96" y="168.88" width="14.88" height="8.18" fill="#7b2382"/>
<rect x="495.84" y="168.88" width="14.88" height="8.18" fill="#7b2382"/>
<rect x="510.72" y="168.88" width="14.88" height="8.18" fill="#7b2382"/>
<rect x="525.6" y="168.88" width="14.88" height="8.18" fill="#7b2382"/>
<rect x="543.4" y="168.88" width="14.88" height="8.18" fill="#f5735b"/>
<rect x="558.28" y="168.88" width="14.88" height="8.18" fill="#fbb47b"/>
<rect x="573.16" y="168.88" width="14.88" height="8.18" fill="#982c80"/>
<rect x="588.04" y="168.88" width="14.88" height="8.18" fill="#982c80"/>
<rect x="602.92" y="168.88" width="14.88" height="8.18" fill="#f5735b"/>
<rect x="617.8" y="168.88" width="14.88" height="8.18" fill="#f5735b"/>
<rect x="451.2" y="177.06" width="14.88" height="8.18" fill="#7b2382"/>
<rect x="466.08" y="177.06" width="14.88" height="8.18" fill="#7b2382"/>
<rect x="480.96" y="177.06" width="14.88" height="8.18" fill="#7b2382"/>
<rect x="495.84" y="177.06" width="14.88" height="8.18" fill="#7b2382"/>
<rect x="510.72" y="177.06" width="14.88" height="8.18" fill="#7b2382"/>
<rect x="525.6" y="177.06" width="14.88" height="8.18" fill="#7b2382"/>
<rect x="543.4" y="177.06" width="14.88" height="8.18" fill="#f5735b"/>
<rect x="558.28" y="177.06" width="14.88" height="8.18" fill="#fbb47b"/>
<rect x="573.16" y="177.06" width="14.88" height="8.18" fill="#d4436d"/>
<rect x="588.04" y="177.06" width="14.88" height="8.18" fill="#982c80"/>
<rect x="602.92" y="177.06" width="14.88" height="8.18" fill="#fbb47b"/>
<rect x="617.8" y="177.06" width="14.88" height="8.18" fill="#d4436d"/>
<rect x="451.2" y="185.24" width="14.88" height="8.18" fill="#7b2382"/>
<rect x="466.08" y="185.24" width="14.88" height="8.18" fill="#7b2382"/>
<rect x="480.96" y="185.24" width="14.88" height="8.18" fill="#5d1e7c"/>
<rect x="495.84" y="185.24" width="14.88" height="8.18" fill="#7b2382"/>
<rect x="510.72" y="185.24" width="14.88" height="8.18" fill="#7b2382"/>
<rect x="525.6" y="185.24" width="14.88" height="8.18" fill="#7b2382"/>
<rect x="543.4" y="185.24" width="14.88" height="8.18" fill="#fbb47b"/>
<rect x="558.28" y="185.24" width="14.88" height="8.18" fill="#fbb47b"/>
<rect x="573.16" y="185.24" width="14.88" height="8.18" fill="#982c80"/>
<rect x="588.04" y="185.24" width="14.88" height="8.18" fill="#b83879"/>
<rect x="602.92" y="185.24" width="14.88" height="8.18" fill="#e95562"/>
<rect x="617.8" y="185.24" width="14.88" height="8.18" fill="#d4436d"/>
<rect x="451.2" y="193.43" width="14.88" height="8.18" fill="#7b2382"/>
<rect x="466.08" y="193.43" width="14.88" height="8.18" fill="#7b2382"/>
<rect x="480.96" y="193.43" width="14.88" height="8.18" fill="#7b2382"/>
<rect x="495.84" y="193.43" width="14.88" height="8.18" fill="#7b2382"/>
<rect x="510.72" y="193.43" width="14.88" height="8.18" fill="#7b2382"/>
<rect x="525.6" y="193.43" width="14.88" height="8.18" fill="#7b2382"/>
<rect x="543.4" y="193.43" width="14.88" height="8.18" fill="#e95562"/>
<rect x="558.28" y="193.43" width="14.88" height="8.18" fill="#982c80"/>
<rect x="573.16" y="193.43" width="14.88" height="8.18" fill="#fbf3bc"/>
<rect x="588.04" y="193.43" width="14.88" height="8.18" fill="#e95562"/>
<rect x="602.92" y="193.43" width="14.88" height="8.18" fill="#d4436d"/>
<rect x="617.8" y="193.43" width="14.88" height="8.18" fill="#b83879"/>
<rect x="451.2" y="201.61" width="14.88" height="8.18" fill="#5d1e7c"/>
<rect x="466.08" y="201.61" width="14.88" height="8.18" fill="#5d1e7c"/>
<rect x="480.96" y="201.61" width="14.88" height="8.18" fill="#7b2382"/>
<rect x="495.84" y="201.61" width="14.88" height="8.18" fill="#5d1e7c"/>
<rect x="510.72" y="201.61" width="14.88" height="8.18" fill="#5d1e7c"/>
<rect x="525.6" y="201.61" width="14.88" height="8.18" fill="#7b2382"/>
<rect x="543.4" y="201.61" width="14.88" height="8.18" fill="#b83879"/>
<rect x="558.28" y="201.61" width="14.88" height="8.18" fill="#d4436d"/>
<rect x="573.16" y="201.61" width="14.88" height="8.18" fill="#f5735b"/>
<rect x="588.04" y="201.61" width="14.88" height="8.18" fill="#f99366"/>
<rect x="602.92" y="201.61" width="14.88" height="8.18" fill="#f5735b"/>
<rect x="617.8" y="201.61" width="14.88" height="8.18" fill="#f99366"/>
<rect x="451.2" y="209.8" width="14.88" height="8.18" fill="#7b2382"/>
<rect x="466.08" y="209.8" width="14.88" height="8.18" fill="#7b2382"/>
<rect x="480.96" y="209.8" width="14.88" height="8.18" fill="#7b2382"/>
<rect x="495.84" y="209.8" width="14.88" height="8.18" fill="#7b2382"/>
<rect x="510.72" y="209.8" width="14.88" height="8.18" fill="#7b2382"/>
<rect x="525.6" y="209.8" width="14.88" height="8.18" fill="#7b2382"/>
<rect x="543.4" y="209.8" width="14.88" height="8.18" fill="#b83879"/>
<rect x="558.28" y="209.8" width="14.88" height="8.18" fill="#982c80"/>
<rect x="573.16" y="209.8" width="14.88" height="8.18" fill="#f99366"/>
<rect x="588.04" y="209.8" width="14.88" height="8.18" fill="#f5735b"/>
<rect x="602.92" y="209.8" width="14.88" height="8.18" fill="#f5735b"/>
<rect x="617.8" y="209.8" width="14.88" height="8.18" fill="#fbb47b"/>
<rect x="451.2" y="217.98" width="14.88" height="8.18" fill="#7b2382"/>
<rect x="466.08" y="217.98" width="14.88" height="8.18" fill="#7b2382"/>
<rect x="480.96" y="217.98" width="14.88" height="8.18" fill="#7b2382"/>
<rect x="495.84" y="217.98" width="14.88" height="8.18" fill="#7b2382"/>
<rect x="510.72" y="217.98" width="14.88" height="8.18" fill="#7b2382"/>
<rect x="525.6" y="217.98" width="14.88" height="8.18" fill="#7b2382"/>
<rect x="543.4" y="217.98" width="14.88" height="8.18" fill="#b83879"/>
<rect x="558.28" y="217.98" width="14.88" height="8.18" fill="#982c80"/>
<rect x="573.16" y="217.98" width="14.88" height="8.18" fill="#f99366"/>
<rect x="588.04" y="217.98" width="14.88" height="8.18" fill="#f5735b"/>
<rect x="602.92" y="217.98" width="14.88" height="8.18" fill="#f5735b"/>
<rect x="617.8" y="217.98" width="14.88" height="8.18" fill="#fbb47b"/>
<rect x="451.2" y="226.16" width="14.88" height="8.18" fill="#7b2382"/>
<rect x="466.08" y="226.16" width="14.88" height="8.18" fill="#7b2382"/>
<rect x="480.96" y="226.16" width="14.88" height="8.18" fill="#7b2382"/>
<rect x="495.84" y="226.16" width="14.88" height="8.18" fill="#7b2382"/>
<rect x="510.72" y="226.16" width="14.88" height="8.18" fill="#7b2382"/>
<rect x="525.6" y="226.16" width="14.88" height="8.18" fill="#7b2382"/>
<rect x="543.4" y="226.16" width="14.88" height="8.18" fill="#b83879"/>
<rect x="558.28" y="226.16" width="14.88" height="8.18" fill="#b83879"/>
<rect x="573.16" y="226.16" width="14.88" height="8.18" fill="#fbb47b"/>
<rect x="588.04" y="226.16" width="14.88" height="8.18" fill="#e95562"/>
<rect x="602.92" y="226.16" width="14.88" height="8.18" fill="#f99366"/>
<rect x="617.8" y="226.16" width="14.88" height="8.18" fill="#f99366"/>
<rect x="451.2" y="234.35" width="14.88" height="8.18" fill="#7b2382"/>
<rect x="466.08" y="234.35" width="14.88" height="8.18" fill="#7b2382"/>
<rect x="480.96" y="234.35" width="14.88" height="8.18" fill="#7b2382"/>
<rect x="495.84" y="234.35" width="14.88" height="8.18" fill="#7b2382"/>
<rect x="510.72" y="234.35" width="14.88" height="8.18" fill="#7b2382"/>
<rect x="525.6" y="234.35" width="14.88" height="8.18" fill="#7b2382"/>
<rect x="543.4" y="234.35" width="14.88" height="8.18" fill="#982c80"/>
<rect x="558.28" y="234.35" width="14.88" height="8.18" fill="#982c80"/>
<rect x="573.16" y="234.35" width="14.88" height="8.18" fill="#fbb47b"/>
<rect x="588.04" y="234.35" width="14.88" height="8.18" fill="#f5735b"/>
<rect x="602.92" y="234.35" width="14.88" height="8.18" fill="#f99366"/>
<rect x="617.8" y="234.35" width="14.88" height="8.18" fill="#f5735b"/>
<rect x="451.2" y="242.53" width="14.88" height="8.18" fill="#7b2382"/>
<rect x="466.08" y="242.53" width="14.88" height="8.18" fill="#7b2382"/>
<rect x="480.96" y="242.53" width="14.88" height="8.18" fill="#7b2382"/>
<rect x="495.84" y="242.53" width="14.88" height="8.18" fill="#7b2382"/>
<rect x="510.72" y="242.53" width="14.88" height="8.18" fill="#7b2382"/>
<rect x="525.6" y="242.53" width="14.88" height="8.18" fill="#7b2382"/>
<rect x="543.4" y="242.53" width="14.88" height="8.18" fill="#982c80"/>
<rect x="558.28" y="242.53" width="14.88" height="8.18" fill="#982c80"/>
<rect x="573.16" y="242.53" width="14.88" height="8.18" fill="#fbb47b"/>
<rect x="588.04" y="242.53" width="14.88" height="8.18" fill="#f5735b"/>
<rect x="602.92" y="242.53" width="14.88" height="8.18" fill="#f99366"/>
<rect x="617.8" y="242.53" width="14.88" height="8.18" fill="#f5735b"/>
<rect x="451.2" y="250.72" width="14.88" height="8.18" fill="#7b2382"/>
<rect x="466.08" y="250.72" width="14.88" height="8.18" fill="#7b2382"/>
<rect x="480.96" y="250.72" width="14.88" height="8.18" fill="#7b2382"/>
<rect x="495.84" y="250.72" width="14.88" height="8.18" fill="#7b2382"/>
<rect x="510.72" y="250.72" width="14.88" height="8.18" fill="#7b2382"/>
<rect x="525.6" y="250.72" width="14.88" height="8.18" fill="#7b2382"/>
<rect x="543.4" y="250.72" width="14.88" height="8.18" fill="#b83879"/>
<rect x="558.28" y="250.72" width="14.88" height="8.18" fill="#d4436d"/>
<rect x="573.16" y="250.72" width="14.88" height="8.18" fill="#b83879"/>
<rect x="588.04" y="250.72" width="14.88" height="8.18" fill="#d4436d"/>
<rect x="602.92" y="250.72" width="14.88" height="8.18" fill="#f99366"/>
<rect x="617.8" y="250.72" width="14.88" height="8.18" fill="#fbf3bc"/>
<rect x="451.2" y="258.9" width="14.88" height="8.18" fill="#7b2382"/>
<rect x="466.08" y="258.9" width="14.88" height="8.18" fill="#7b2382"/>
<rect x="480.96" y="258.9" width="14.88" height="8.18" fill="#7b2382"/>
<rect x="495.84" y="258.9" width="14.88" height="8.18" fill="#7b2382"/>
<rect x="510.72" y="258.9" width="14.88" height="8.18" fill="#7b2382"/>
<rect x="525.6" y="258.9" width="14.88" height="8.18" fill="#7b2382"/>
<rect x="543.4" y="258.9" width="14.88" height="8.18" fill="#e95562"/>
<rect x="558.28" y="258.9" width="14.88" height="8.18" fill="#f99366"/>
<rect x="573.16" y="258.9" width="14.88" height="8.18" fill="#d4436d"/>
<rect x="588.04" y="258.9" width="14.88" height="8.18" fill="#b83879"/>
<rect x="602.92" y="258.9" width="14.88" height="8.18" fill="#f5735b"/>
<rect x="617.8" y="258.9" width="14.88" height="8.18" fill="#fbb47b"/>
<rect x="451.2" y="267.08" width="14.88" height="8.18" fill="#7b2382"/>
<rect x="466.08" y="267.08" width="14.88" height="8.18" fill="#5d1e7c"/>
<rect x="480.96" y="267.08" width="14.88" height="8.18" fill="#7b2382"/>
<rect x="495.84" y="267.08" width="14.88" height="8.18" fill="#5d1e7c"/>
<rect x="510.72" y="267.08" width="14.88" height="8.18" fill="#5d1e7c"/>
<rect x="525.6" y="267.08" width="14.88" height="8.18" fill="#5d1e7c"/>
<rect x="543.4" y="267.08" width="14.88" height="8.18" fill="#f5735b"/>
<rect x="558.28" y="267.08" width="14.88" height="8.18" fill="#f99366"/>
<rect x="573.16" y="267.08" width="14.88" height="8.18" fill="#d4436d"/>
<rect x="588.04" y="267.08" width="14.88" height="8.18" fill="#b83879"/>
<rect x="602.92" y="267.08" width="14.88" height="8.18" fill="#e95562"/>
<rect x="617.8" y="267.08" width="14.88" height="8.18" fill="#fbb47b"/>
<rect x="451.2" y="275.27" width="14.88" height="8.18" fill="#7b2382"/>
<rect x="466.08" y="275.27" width="14.88" height="8.18" fill="#7b2382"/>
<rect x="480.96" y="275.27" width="14.88" height="8.18" fill="#7b2382"/>
<rect x="495.84" y="275.27" width="14.88" height="8.18" fill="#7b2382"/>
<rect x="510.72" y="275.27" width="14.88" height="8.18" fill="#7b2382"/>
<rect x="525.6" y="275.27" width="14.88" height="8.18" fill="#7b2382"/>
<rect x="543.4" y="275.27" width="14.88" height="8.18" fill="#e95562"/>
<rect x="558.28" y="275.27" width="14.88" height="8.18" fill="#d4436d"/>
<rect x="573.16" y="275.27" width="14.88" height="8.18" fill="#b83879"/>
<rect x="588.04" y="275.27" width="14.88" height="8.18" fill="#b83879"/>
<rect x="602.92" y="275.27" width="14.88" height="8.18" fill="#f99366"/>
<rect x="617.8" y="275.27" width="14.88" height="8.18" fill="#fdd594"/>
<rect x="451.2" y="283.45" width="14.88" height="8.18" fill="#7b2382"/>
<rect x="466.08" y="283.45" width="14.88" height="8.18" fill="#7b2382"/>
<rect x="480.96" y="283.45" width="14.88" height="8.18" fill="#7b2382"/>
<rect x="495.84" y="283.45" width="14.88" height="8.18" fill="#5d1e7c"/>
<rect x="510.72" y="283.45" width="14.88" height="8.18" fill="#7b2382"/>
<rect x="525.6" y="283.45" width="14.88" height="8.18" fill="#7b2382"/>
<rect x="543.4" y="283.45" width="14.88" height="8.18" fill="#f5735b"/>
<rect x="558.28" y="283.45" width="14.88" height="8.18" fill="#e95562"/>
<rect x="573.16" y="283.45" width="14.88" height="8.18" fill="#b83879"/>
<rect x="588.04" y="283.45" width="14.88" height="8.18" fill="#b83879"/>
<rect x="602.92" y="283.45" width="14.88" height="8.18" fill="#f99366"/>
<rect x="617.8" y="283.45" width="14.88" height="8.18" fill="#fbb47b"/>
<rect x="451.2" y="291.64" width="14.88" height="8.18" fill="#7b2382"/>
<rect x="466.08" y="291.64" width="14.88" height="8.18" fill="#7b2382"/>
<rect x="480.96" y="291.64" width="14.88" height="8.18" fill="#7b2382"/>
<rect x="495.84" y="291.64" width="14.88" height="8.18" fill="#5d1e7c"/>
<rect x="510.72" y="291.64" width="14.88" height="8.18" fill="#5d1e7c"/>
<rect x="525.6" y="291.64" width="14.88" height="8.18" fill="#5d1e7c"/>
<rect x="543.4" y="291.64" width="14.88" height="8.18" fill="#f5735b"/>
<rect x="558.28" y="291.64" width="14.88" height="8.18" fill="#e95562"/>
<rect x="573.16" y="291.64" width="14.88" height="8.18" fill="#b83879"/>
<rect x="588.04" y="291.64" width="14.88" height="8.18" fill="#d4436d"/>
<rect x="602.92" y="291.64" width="14.88" height="8.18" fill="#f5735b"/>
<rect x="617.8" y="291.64" width="14.88" height="8.18" fill="#fbb47b"/>
<rect x="451.2" y="299.82" width="14.88" height="8.18" fill="#5d1e7c"/>
<rect x="466.08" y="299.82" width="14.88" height="8.18" fill="#7b2382"/>
<rect x="480.96" y="299.82" width="14.88" height="8.18" fill="#7b2382"/>
<rect x="495.84" y="299.82" width="14.88" height="8.18" fill="#7b2382"/>
<rect x="510.72" y="299.82" width="14.88" height="8.18" fill="#5d1e7c"/>
<rect x="525.6" y="299.82" width="14.88" height="8.18" fill="#5d1e7c"/>
<rect x="543.4" y="299.82" width="14.88" height="8.18" fill="#f5735b"/>
<rect x="558.28" y="299.82" width="14.88" height="8.18" fill="#e95562"/>
<rect x="573.16" y="299.82" width="14.88" height="8.18" fill="#b83879"/>
<rect x="588.04" y="299.82" width="14.88" height="8.18" fill="#d4436d"/>
<rect x="602.92" y="299.82" width="14.88" height="8.18" fill="#f99366"/>
<rect x="617.8" y="299.82" width="14.88" height="8.18" fill="#fbb47b"/>
<rect x="451.2" y="308" width="14.88" height="8.18" fill="#5d1e7c"/>
<rect x="466.08" y="308" width="14.88" height="8.18" fill="#7b2382"/>
<rect x="480.96" y="308" width="14.88" height="8.18" fill="#7b2382"/>
<rect x="495.84" y="308" width="14.88" height="8.18" fill="#7b2382"/>
<rect x="510.72" y="308" width="14.88" height="8.18" fill="#5d1e7c"/>
<rect x="525.6" y="308" width="14.88" height="8.18" fill="#5d1e7c"/>
<rect x="543.4" y="308" width="14.88" height="8.18" fill="#e95562"/>
<rect x="558.28" y="308" width="14.88" height="8.18" fill="#f5735b"/>
<rect x="573.16" y="308" width="14.88" height="8.18" fill="#b83879"/>
<rect x="588.04" y="308" width="14.88" height="8.18" fill="#b83879"/>
<rect x="602.92" y="308" width="14.88" height="8.18" fill="#f5735b"/>
<rect x="617.8" y="308" width="14.88" height="8.18" fill="#fbb47b"/>
<rect x="451.2" y="316.19" width="14.88" height="8.18" fill="#7b2382"/>
<rect x="466.08" y="316.19" width="14.88" height="8.18" fill="#5d1e7c"/>
<rect x="480.96" y="316.19" width="14.88" height="8.18" fill="#7b2382"/>
<rect x="495.84" y="316.19" width="14.88" height="8.18" fill="#7b2382"/>
<rect x="510.72" y="316.19" width="14.88" height="8.18" fill="#5d1e7c"/>
<rect x="525.6" y="316.19" width="14.88" height="8.18" fill="#7b2382"/>
<rect x="543.4" y="316.19" width="14.88" height="8.18" fill="#f99366"/>
<rect x="558.28" y="316.19" width="14.88" height="8.18" fill="#f5735b"/>
<rect x="573.16" y="316.19" width="14.88" height="8.18" fill="#b83879"/>
<rect x="588.04" y="316.19" width="14.88" height="8.18" fill="#b83879"/>
<rect x="602.92" y="316.19" width="14.88" height="8.18" fill="#f99366"/>
<rect x="617.8" y="316.19" width="14.88" height="8.18" fill="#f5735b"/>
<rect x="451.2" y="324.37" width="14.88" height="8.18" fill="#5d1e7c"/>
<rect x="466.08" y="324.37" width="14.88" height="8.18" fill="#5d1e7c"/>
<rect x="480.96" y="324.37" width="14.88" height="8.18" fill="#7b2382"/>
<rect x="495.84" y="324.37" width="14.88" height="8.18" fill="#5d1e7c"/>
<rect x="510.72" y="324.37" width="14.88" height="8.18" fill="#5d1e7c"/>
<rect x="525.6" y="324.37" width="14.88" height="8.18" fill="#7b2382"/>
<rect x="543.4" y="324.37" width="14.88" height="8.18" fill="#f5735b"/>
<rect x="558.28" y="324.37" width="14.88" height="8.18" fill="#e95562"/>
<rect x="573.16" y="324.37" width="14.88" height="8.18" fill="#b83879"/>
<rect x="588.04" y="324.37" width="14.88" height="8.18" fill="#d4436d"/>
<rect x="602.92" y="324.37" width="14.88" height="8.18" fill="#fbb47b"/>
<rect x="617.8" y="324.37" width="14.88" height="8.18" fill="#f5735b"/>
<rect x="451.2" y="332.56" width="14.88" height="8.18" fill="#7b2382"/>
<rect x="466.08" y="332.56" width="14.88" height="8.18" fill="#7b2382"/>
<rect x="480.96" y="332.56" width="14.88" height="8.18" fill="#7b2382"/>
<rect x="495.84" y="332.56" width="14.88" height="8.18" fill="#7b2382"/>
<rect x="510.72" y="332.56" width="14.88" height="8.18" fill="#7b2382"/>
<rect x="525.6" y="332.56" width="14.88" height="8.18" fill="#7b2382"/>
<rect x="543.4" y="332.56" width="14.88" height="8.18" fill="#d4436d"/>
<rect x="558.28" y="332.56" width="14.88" height="8.18" fill="#b83879"/>
<rect x="573.16" y="332.56" width="14.88" height="8.18" fill="#d4436d"/>
<rect x="588.04" y="332.56" width="14.88" height="8.18" fill="#d4436d"/>
<rect x="602.92" y="332.56" width="14.88" height="8.18" fill="#fbf3bc"/>
<rect x="617.8" y="332.56" width="14.88" height="8.18" fill="#d4436d"/>
<rect x="451.2" y="340.74" width="14.88" height="8.18" fill="#7b2382"/>
<rect x="466.08" y="340.74" width="14.88" height="8.18" fill="#7b2382"/>
<rect x="480.96" y="340.74" width="14.88" height="8.18" fill="#7b2382"/>
<rect x="495.84" y="340.74" width="14.88" height="8.18" fill="#7b2382"/>
<rect x="510.72" y="340.74" width="14.88" height="8.18" fill="#7b2382"/>
<rect x="525.6" y="340.74" width="14.88" height="8.18" fill="#7b2382"/>
<rect x="543.4" y="340.74" width="14.88" height="8.18" fill="#d4436d"/>
<rect x="558.28" y="340.74" width="14.88" height="8.18" fill="#b83879"/>
<rect x="573.16" y="340.74" width="14.88" height="8.18" fill="#d4436d"/>
<rect x="588.04" y="340.74" width="14.88" height="8.18" fill="#d4436d"/>
<rect x="602.92" y="340.74" width="14.88" height="8.18" fill="#fbf3bc"/>
<rect x="617.8" y="340.74" width="14.88" height="8.18" fill="#f99366"/>
<rect x="451.2" y="348.92" width="14.88" height="8.18" fill="#7b2382"/>
<rect x="466.08" y="348.92" width="14.88" height="8.18" fill="#7b2382"/>
<rect x="480.96" y="348.92" width="14.88" height="8.18" fill="#7b2382"/>
<rect x="495.84" y="348.92" width="14.88" height="8.18" fill="#7b2382"/>
<rect x="510.72" y="348.92" width="14.88" height="8.18" fill="#7b2382"/>
<rect x="525.6" y="348.92" width="14.88" height="8.18" fill="#7b2382"/>
<rect x="543.4" y="348.92" width="14.88" height="8.18" fill="#d4436d"/>
<rect x="558.28" y="348.92" width="14.88" height="8.18" fill="#e95562"/>
<rect x="573.16" y="348.92" width="14.88" height="8.18" fill="#b83879"/>
<rect x="588.04" y="348.92" width="14.88" height="8.18" fill="#b83879"/>
<rect x="602.92" y="348.92" width="14.88" height="8.18" fill="#fdd594"/>
<rect x="617.8" y="348.92" width="14.88" height="8.18" fill="#f99366"/>
<rect x="451.2" y="357.11" width="14.88" height="8.18" fill="#7b2382"/>
<rect x="466.08" y="357.11" width="14.88" height="8.18" fill="#7b2382"/>
<rect x="480.96" y="357.11" width="14.88" height="8.18" fill="#5d1e7c"/>
<rect x="495.84" y="357.11" width="14.88" height="8.18" fill="#5d1e7c"/>
<rect x="510.72" y="357.11" width="14.88" height="8.18" fill="#7b2382"/>
<rect x="525.6" y="357.11" width="14.88" height="8.18" fill="#7b2382"/>
<rect x="543.4" y="357.11" width="14.88" height="8.18" fill="#d4436d"/>
<rect x="558.28" y="357.11" width="14.88" height="8.18" fill="#d4436d"/>
<rect x="573.16" y="357.11" width="14.88" height="8.18" fill="#e95562"/>
<rect x="588.04" y="357.11" width="14.88" height="8.18" fill="#e95562"/>
<rect x="602.92" y="357.11" width="14.88" height="8.18" fill="#fdd594"/>
<rect x="617.8" y="357.11" width="14.88" height="8.18" fill="#f5735b"/>
<rect x="451.2" y="365.29" width="14.88" height="8.18" fill="#7b2382"/>
<rect x="466.08" y="365.29" width="14.88" height="8.18" fill="#7b2382"/>
<rect x="480.96" y="365.29" width="14.88" height="8.18" fill="#7b2382"/>
<rect x="495.84" y="365.29" width="14.88" height="8.18" fill="#7b2382"/>
<rect x="510.72" y="365.29" width="14.88" height="8.18" fill="#7b2382"/>
<rect x="525.6" y="365.29" width="14.88" height="8.18" fill="#7b2382"/>
<rect x="543.4" y="365.29" width="14.88" height="8.18" fill="#f5735b"/>
<rect x="558.28" y="365.29" width="14.88" height="8.18" fill="#d4436d"/>
<rect x="573.16" y="365.29" width="14.88" height="8.18" fill="#d4436d"/>
<rect x="588.04" y="365.29" width="14.88" height="8.18" fill="#d4436d"/>
<rect x="602.92" y="365.29" width="14.88" height="8.18" fill="#fdd594"/>
<rect x="617.8" y="365.29" width="14.88" height="8.18" fill="#f5735b"/>
<rect x="451.2" y="373.48" width="14.88" height="8.18" fill="#7b2382"/>
<rect x="466.08" y="373.48" width="14.88" height="8.18" fill="#7b2382"/>
<rect x="480.96" y="373.48" width="14.88" height="8.18" fill="#7b2382"/>
<rect x="495.84" y="373.48" width="14.88" height="8.18" fill="#7b2382"/>
<rect x="510.72" y="373.48" width="14.88" height="8.18" fill="#7b2382"/>
<rect x="525.6" y="373.48" width="14.88" height="8.18" fill="#7b2382"/>
<rect x="543.4" y="373.48" width="14.88" height="8.18" fill="#e95562"/>
<rect x="558.28" y="373.48" width="14.88" height="8.18" fill="#b83879"/>
<rect x="573.16" y="373.48" width="14.88" height="8.18" fill="#d4436d"/>
<rect x="588.04" y="373.48" width="14.88" height="8.18" fill="#d4436d"/>
<rect x="602.92" y="373.48" width="14.88" height="8.18" fill="#fdd594"/>
<rect x="617.8" y="373.48" width="14.88" height="8.18" fill="#f5735b"/>
<rect x="451.2" y="381.66" width="14.88" height="8.18" fill="#7b2382"/>
<rect x="466.08" y="381.66" width="14.88" height="8.18" fill="#5d1e7c"/>
<rect x="480.96" y="381.66" width="14.88" height="8.18" fill="#7b2382"/>
<rect x="495.84" y="381.66" width="14.88" height="8.18" fill="#5d1e7c"/>
<rect x="510.72" y="381.66" width="14.88" height="8.18" fill="#7b2382"/>
<rect x="525.6" y="381.66" width="14.88" height="8.18" fill="#5d1e7c"/>
<rect x="543.4" y="381.66" width="14.88" height="8.18" fill="#f5735b"/>
<rect x="558.28" y="381.66" width="14.88" height="8.18" fill="#e95562"/>
<rect x="573.16" y="381.66" width="14.88" height="8.18" fill="#f5735b"/>
<rect x="588.04" y="381.66" width="14.88" height="8.18" fill="#f5735b"/>
<rect x="602.92" y="381.66" width="14.88" height="8.18" fill="#f99366"/>
<rect x="617.8" y="381.66" width="14.88" height="8.18" fill="#b83879"/>
<rect x="451.2" y="389.84" width="14.88" height="8.18" fill="#5d1e7c"/>
<rect x="466.08" y="389.84" width="14.88" height="8.18" fill="#7b2382"/>
<rect x="480.96" y="389.84" width="14.88" height="8.18" fill="#7b2382"/>
<rect x="495.84" y="389.84" width="14.88" height="8.18" fill="#7b2382"/>
<rect x="510.72" y="389.84" width="14.88" height="8.18" fill="#7b2382"/>
<rect x="525.6" y="389.84" width="14.88" height="8.18" fill="#5d1e7c"/>
<rect x="543.4" y="389.84" width="14.88" height="8.18" fill="#f5735b"/>
<rect x="558.28" y="389.84" width="14.88" height="8.18" fill="#d4436d"/>
<rect x="573.16" y="389.84" width="14.88" height="8.18" fill="#e95562"/>
<rect x="588.04" y="389.84" width="14.88" height="8.18" fill="#e95562"/>
<rect x="602.92" y="389.84" width="14.88" height="8.18" fill="#fbb47b"/>
<rect x="617.8" y="389.84" width="14.88" height="8.18" fill="#d4436d"/>
<rect x="451.2" y="398.03" width="14.88" height="8.18" fill="#7b2382"/>
<rect x="466.08" y="398.03" width="14.88" height="8.18" fill="#7b2382"/>
<rect x="480.96" y="398.03" width="14.88" height="8.18" fill="#7b2382"/>
<rect x="495.84" y="398.03" width="14.88" height="8.18" fill="#5d1e7c"/>
<rect x="510.72" y="398.03" width="14.88" height="8.18" fill="#5d1e7c"/>
<rect x="525.6" y="398.03" width="14.88" height="8.18" fill="#7b2382"/>
<rect x="543.4" y="398.03" width="14.88" height="8.18" fill="#f5735b"/>
<rect x="558.28" y="398.03" width="14.88" height="8.18" fill="#d4436d"/>
<rect x="573.16" y="398.03" width="14.88" height="8.18" fill="#e95562"/>
<rect x="588.04" y="398.03" width="14.88" height="8.18" fill="#f5735b"/>
<rect x="602.92" y="398.03" width="14.88" height="8.18" fill="#fbb47b"/>
<rect x="617.8" y="398.03" width="14.88" height="8.18" fill="#d4436d"/>
<rect x="451.2" y="406.21" width="14.88" height="8.18" fill="#7b2382"/>
<rect x="466.08" y="406.21" width="14.88" height="8.18" fill="#7b2382"/>
<rect x="480.96" y="406.21" width="14.88" height="8.18" fill="#7b2382"/>
<rect x="495.84" y="406.21" width="14.88" height="8.18" fill="#5d1e7c"/>
<rect x="510.72" y="406.21" width="14.88" height="8.18" fill="#7b2382"/>
<rect x="525.6" y="406.21" width="14.88" height="8.18" fill="#5d1e7c"/>
<rect x="543.4" y="406.21" width="14.88" height="8.18" fill="#d4436d"/>
<rect x="558.28" y="406.21" width="14.88" height="8.18" fill="#982c80"/>
<rect x="573.16" y="406.21" width="14.88" height="8.18" fill="#f99366"/>
<rect x="588.04" y="406.21" width="14.88" height="8.18" fill="#fbb47b"/>
<rect x="602.92" y="406.21" width="14.88" height="8.18" fill="#f99366"/>
<rect x="617.8" y="406.21" width="14.88" height="8.18" fill="#b83879"/>
<rect x="451.2" y="414.4" width="14.88" height="8.18" fill="#7b2382"/>
<rect x="466.08" y="414.4" width="14.88" height="8.18" fill="#7b2382"/>
<rect x="480.96" y="414.4" width="14.88" height="8.18" fill="#7b2382"/>
<rect x="495.84" y="414.4" width="14.88" height="8.18" fill="#7b2382"/>
<rect x="510.72" y="414.4" width="14.88" height="8.18" fill="#7b2382"/>
<rect x="525.6" y="414.4" width="14.88" height="8.18" fill="#7b2382"/>
<rect x="543.4" y="414.4" width="14.88" height="8.18" fill="#d4436d"/>
<rect x="558.28" y="414.4" width="14.88" height="8.18" fill="#982c80"/>
<rect x="573.16" y="414.4" width="14.88" height="8.18" fill="#d4436d"/>
<rect x="588.04" y="414.4" width="14.88" height="8.18" fill="#fbb47b"/>
<rect x="602.92" y="414.4" width="14.88" height="8.18" fill="#fdd594"/>
<rect x="617.8" y="414.4" width="14.88" height="8.18" fill="#d4436d"/>
<rect x="451.2" y="422.58" width="14.88" height="8.18" fill="#7b2382"/>
<rect x="466.08" y="422.58" width="14.88" height="8.18" fill="#7b2382"/>
<rect x="480.96" y="422.58" width="14.88" height="8.18" fill="#7b2382"/>
<rect x="495.84" y="422.58" width="14.88" height="8.18" fill="#7b2382"/>
<rect x="510.72" y="422.58" width="14.88" height="8.18" fill="#7b2382"/>
<rect x="525.6" y="422.58" width="14.88" height="8.18" fill="#7b2382"/>
<rect x="543.4" y="422.58" width="14.88" height="8.18" fill="#b83879"/>
<rect x="558.28" y="422.58" width="14.88" height="8.18" fill="#982c80"/>
<rect x="573.16" y="422.58" width="14.88" height="8.18" fill="#f5735b"/>
<rect x="588.04" y="422.58" width="14.88" height="8.18" fill="#f5735b"/>
<rect x="602.92" y="422.58" width="14.88" height="8.18" fill="#fdd594"/>
<rect x="617.8" y="422.58" width="14.88" height="8.18" fill="#e95562"/>
<rect x="451.2" y="430.76" width="14.88" height="8.18" fill="#7b2382"/>
<rect x="466.08" y="430.76" width="14.88" height="8.18" fill="#7b2382"/>
<rect x="480.96" y="430.76" width="14.88" height="8.18" fill="#7b2382"/>
<rect x="495.84" y="430.76" width="14.88" height="8.18" fill="#7b2382"/>
<rect x="510.72" y="430.76" width="14.88" height="8.18" fill="#7b2382"/>
<rect x="525.6" y="430.76" width="14.88" height="8.18" fill="#7b2382"/>
<rect x="543.4" y="430.76" width="14.88" height="8.18" fill="#d4436d"/>
<rect x="558.28" y="430.76" width="14.88" height="8.18" fill="#982c80"/>
<rect x="573.16" y="430.76" width="14.88" height="8.18" fill="#f99366"/>
<rect x="588.04" y="430.76" width="14.88" height="8.18" fill="#f5735b"/>
<rect x="602.92" y="430.76" width="14.88" height="8.18" fill="#fdd594"/>
<rect x="617.8" y="430.76" width="14.88" height="8.18" fill="#d4436d"/>
<rect x="451.2" y="438.95" width="14.88" height="8.18" fill="#7b2382"/>
<rect x="466.08" y="438.95" width="14.88" height="8.18" fill="#7b2382"/>
<rect x="480.96" y="438.95" width="14.88" height="8.18" fill="#7b2382"/>
<rect x="495.84" y="438.95" width="14.88" height="8.18" fill="#7b2382"/>
<rect x="510.72" y="438.95" width="14.88" height="8.18" fill="#7b2382"/>
<rect x="525.6" y="438.95" width="14.88" height="8.18" fill="#7b2382"/>
<rect x="543.4" y="438.95" width="14.88" height="8.18" fill="#b83879"/>
<rect x="558.28" y="438.95" width="14.88" height="8.18" fill="#982c80"/>
<rect x="573.16" y="438.95" width="14.88" height="8.18" fill="#f99366"/>
<rect x="588.04" y="438.95" width="14.88" height="8.18" fill="#f5735b"/>
<rect x="602.92" y="438.95" width="14.88" height="8.18" fill="#fdd594"/>
<rect x="617.8" y="438.95" width="14.88" height="8.18" fill="#d4436d"/>
<rect x="451.2" y="447.13" width="14.88" height="8.18" fill="#7b2382"/>
<rect x="466.08" y="447.13" width="14.88" height="8.18" fill="#7b2382"/>
<rect x="480.96" y="447.13" width="14.88" height="8.18" fill="#7b2382"/>
<rect x="495.84" y="447.13" width="14.88" height="8.18" fill="#5d1e7c"/>
<rect x="510.72" y="447.13" width="14.88" height="8.18" fill="#7b2382"/>
<rect x="525.6" y="447.13" width="14.88" height="8.18" fill="#7b2382"/>
<rect x="543.4" y="447.13" width="14.88" height="8.18" fill="#e95562"/>
<rect x="558.28" y="447.13" width="14.88" height="8.18" fill="#982c80"/>
<rect x="573.16" y="447.13" width="14.88" height="8.18" fill="#f5735b"/>
<rect x="588.04" y="447.13" width="14.88" height="8.18" fill="#f99366"/>
<rect x="602.92" y="447.13" width="14.88" height="8.18" fill="#fbb47b"/>
<rect x="617.8" y="447.13" width="14.88" height="8.18" fill="#b83879"/>
<rect x="451.2" y="455.32" width="14.88" height="8.18" fill="#7b2382"/>
<rect x="466.08" y="455.32" width="14.88" height="8.18" fill="#7b2382"/>
<rect x="480.96" y="455.32" width="14.88" height="8.18" fill="#7b2382"/>
<rect x="495.84" y="455.32" width="14.88" height="8.18" fill="#5d1e7c"/>
<rect x="510.72" y="455.32" width="14.88" height="8.18" fill="#7b2382"/>
<rect x="525.6" y="455.32" width="14.88" height="8.18" fill="#5d1e7c"/>
<rect x="543.4" y="455.32" width="14.88" height="8.18" fill="#d4436d"/>
<rect x="558.28" y="455.32" width="14.88" height="8.18" fill="#d4436d"/>
<rect x="573.16" y="455.32" width="14.88" height="8.18" fill="#f99366"/>
<rect x="588.04" y="455.32" width="14.88" height="8.18" fill="#f5735b"/>
<rect x="602.92" y="455.32" width="14.88" height="8.18" fill="#fbb47b"/>
<rect x="617.8" y="455.32" width="14.88" height="8.18" fill="#b83879"/>
<path d="M451.2 54.3V463.5M466.08 54.3V463.5M480.96 54.3V463.5M495.84 54.3V463.5M510.72 54.3V463.5M525.6 54.3V463.5M540.48 54.3V463.5M451.2 54.3H540.48M451.2 62.48H540.48M451.2 70.67H540.48M451.2 78.85H540.48M451.2 87.04H540.48M451.2 95.22H540.48M451.2 103.4H540.48M451.2 111.59H540.48M451.2 119.77H540.48M451.2 127.96H540.48M451.2 136.14H540.48M451.2 144.32H540.48M451.2 152.51H540.48M451.2 160.69H540.48M451.2 168.88H540.48M451.2 177.06H540.48M451.2 185.24H540.48M451.2 193.43H540.48M451.2 201.61H540.48M451.2 209.8H540.48M451.2 217.98H540.48M451.2 226.16H540.48M451.2 234.35H540.48M451.2 242.53H540.48M451.2 250.72H540.48M451.2 258.9H540.48M451.2 267.08H540.48M451.2 275.27H540.48M451.2 283.45H540.48M451.2 291.64H540.48M451.2 299.82H540.48M451.2 308H540.48M451.2 316.19H540.48M451.2 324.37H540.48M451.2 332.56H540.48M451.2 340.74H540.48M451.2 348.92H540.48M451.2 357.11H540.48M451.2 365.29H540.48M451.2 373.48H540.48M451.2 381.66H540.48M451.2 389.84H540.48M451.2 398.03H540.48M451.2 406.21H540.48M451.2 414.4H540.48M451.2 422.58H540.48M451.2 430.76H540.48M451.2 438.95H540.48M451.2 447.13H540.48M451.2 455.32H540.48M451.2 463.5H540.48M543.4 54.3V463.5M558.28 54.3V463.5M573.16 54.3V463.5M588.04 54.3V463.5M602.92 54.3V463.5M617.8 54.3V463.5M632.68 54.3V463.5M543.4 54.3H632.68M543.4 62.48H632.68M543.4 70.67H632.68M543.4 78.85H632.68M543.4 87.04H632.68M543.4 95.22H632.68M543.4 103.4H632.68M543.4 111.59H632.68M543.4 119.77H632.68M543.4 127.96H632.68M543.4 136.14H632.68M543.4 144.32H632.68M543.4 152.51H632.68M543.4 160.69H632.68M543.4 168.88H632.68M543.4 177.06H632.68M543.4 185.24H632.68M543.4 193.43H632.68M543.4 201.61H632.68M543.4 209.8H632.68M543.4 217.98H632.68M543.4 226.16H632.68M543.4 234.35H632.68M543.4 242.53H632.68M543.4 250.72H632.68M543.4 258.9H632.68M543.4 267.08H632.68M543.4 275.27H632.68M543.4 283.45H632.68M543.4 291.64H632.68M543.4 299.82H632.68M543.4 308H632.68M543.4 316.19H632.68M543.4 324.37H632.68M543.4 332.56H632.68M543.4 340.74H632.68M543.4 348.92H632.68M543.4 357.11H632.68M543.4 365.29H632.68M543.4 373.48H632.68M543.4 381.66H632.68M543.4 389.84H632.68M543.4 398.03H632.68M543.4 406.21H632.68M543.4 414.4H632.68M543.4 422.58H632.68M543.4 430.76H632.68M543.4 438.95H632.68M543.4 447.13H632.68M543.4 455.32H632.68M543.4 463.5H632.68" stroke="#9a9a9a" stroke-width="0.9" fill="none"/>
<rect x="451.2" y="44.2" width="14.88" height="7.6" fill="#4bc3cd" stroke="#9a9a9a" stroke-width="0.9"/>
<rect x="466.08" y="44.2" width="14.88" height="7.6" fill="#4bc3cd" stroke="#9a9a9a" stroke-width="0.9"/>
<rect x="480.96" y="44.2" width="14.88" height="7.6" fill="#4bc3cd" stroke="#9a9a9a" stroke-width="0.9"/>
<rect x="495.84" y="44.2" width="14.88" height="7.6" fill="#4bc3cd" stroke="#9a9a9a" stroke-width="0.9"/>
<rect x="510.72" y="44.2" width="14.88" height="7.6" fill="#4bc3cd" stroke="#9a9a9a" stroke-width="0.9"/>
<rect x="525.6" y="44.2" width="14.88" height="7.6" fill="#4bc3cd" stroke="#9a9a9a" stroke-width="0.9"/>
<rect x="543.4" y="44.2" width="14.88" height="7.6" fill="#f38c86" stroke="#9a9a9a" stroke-width="0.9"/>
<rect x="558.28" y="44.2" width="14.88" height="7.6" fill="#f38c86" stroke="#9a9a9a" stroke-width="0.9"/>
<rect x="573.16" y="44.2" width="14.88" height="7.6" fill="#f38c86" stroke="#9a9a9a" stroke-width="0.9"/>
<rect x="588.04" y="44.2" width="14.88" height="7.6" fill="#f38c86" stroke="#9a9a9a" stroke-width="0.9"/>
<rect x="602.92" y="44.2" width="14.88" height="7.6" fill="#f38c86" stroke="#9a9a9a" stroke-width="0.9"/>
<rect x="617.8" y="44.2" width="14.88" height="7.6" fill="#f38c86" stroke="#9a9a9a" stroke-width="0.9"/>
<text x="634.2" y="61.59" font-size="6.55" font-style="italic" fill="#111">CLEC10A</text>
<text x="634.2" y="69.78" font-size="6.55" font-style="italic" fill="#111">MNDA</text>
<text x="634.2" y="77.96" font-size="6.55" font-style="italic" fill="#111">CD36</text>
<text x="634.2" y="86.14" font-size="6.55" font-style="italic" fill="#111">ALDH1A1</text>
<text x="634.2" y="94.33" font-size="6.55" font-style="italic" fill="#111">LIPA</text>
<text x="634.2" y="102.51" font-size="6.55" font-style="italic" fill="#111">SLC39A8</text>
<text x="634.2" y="110.7" font-size="6.55" font-style="italic" fill="#111">GJB2</text>
<text x="634.2" y="118.88" font-size="6.55" font-style="italic" fill="#111">TBC1D9</text>
<text x="634.2" y="127.06" font-size="6.55" font-style="italic" fill="#111">IRAK2</text>
<text x="634.2" y="135.25" font-size="6.55" font-style="italic" fill="#111">LILRB1</text>
<text x="634.2" y="143.43" font-size="6.55" font-style="italic" fill="#111">AQP9</text>
<text x="634.2" y="151.62" font-size="6.55" font-style="italic" fill="#111">SERPINB9</text>
<text x="634.2" y="159.8" font-size="6.55" font-style="italic" fill="#111">ATP13A3</text>
<text x="634.2" y="167.98" font-size="6.55" font-style="italic" fill="#111">OSM</text>
<text x="634.2" y="176.17" font-size="6.55" font-style="italic" fill="#111">IER3</text>
<text x="634.2" y="184.35" font-size="6.55" font-style="italic" fill="#111">PLD1</text>
<text x="634.2" y="192.54" font-size="6.55" font-style="italic" fill="#111">ADA</text>
<text x="634.2" y="200.72" font-size="6.55" font-style="italic" fill="#111">CCL19</text>
<text x="634.2" y="208.9" font-size="6.55" font-style="italic" fill="#111">ARNT2</text>
<text x="634.2" y="217.09" font-size="6.55" font-style="italic" fill="#111">CCL3L1</text>
<text x="634.2" y="225.27" font-size="6.55" font-style="italic" fill="#111">CCL3L3</text>
<text x="634.2" y="233.46" font-size="6.55" font-style="italic" fill="#111">CCL7</text>
<text x="634.2" y="241.64" font-size="6.55" font-style="italic" fill="#111">CCL4L2</text>
<text x="634.2" y="249.82" font-size="6.55" font-style="italic" fill="#111">CCL4L1</text>
<text x="634.2" y="258.01" font-size="6.55" font-style="italic" fill="#111">CEMIP</text>
<text x="634.2" y="266.19" font-size="6.55" font-style="italic" fill="#111">ITGB8</text>
<text x="634.2" y="274.38" font-size="6.55" font-style="italic" fill="#111">ADGRE1</text>
<text x="634.2" y="282.56" font-size="6.55" font-style="italic" fill="#111">TREM1</text>
<text x="634.2" y="290.74" font-size="6.55" font-style="italic" fill="#111">DDIT4</text>
<text x="634.2" y="298.93" font-size="6.55" font-style="italic" fill="#111">IL1A</text>
<text x="634.2" y="307.11" font-size="6.55" font-style="italic" fill="#111">NAMPTP1</text>
<text x="634.2" y="315.3" font-size="6.55" font-style="italic" fill="#111">NAMPT</text>
<text x="634.2" y="323.48" font-size="6.55" font-style="italic" fill="#111">SNX9</text>
<text x="634.2" y="331.66" font-size="6.55" font-style="italic" fill="#111">PTGS2</text>
<text x="634.2" y="339.85" font-size="6.55" font-style="italic" fill="#111">G0S2</text>
<text x="634.2" y="348.03" font-size="6.55" font-style="italic" fill="#111">CXCL1</text>
<text x="634.2" y="356.22" font-size="6.55" font-style="italic" fill="#111">TNIP3</text>
<text x="634.2" y="364.4" font-size="6.55" font-style="italic" fill="#111">SOCS3</text>
<text x="634.2" y="372.58" font-size="6.55" font-style="italic" fill="#111">IL1B</text>
<text x="634.2" y="380.77" font-size="6.55" font-style="italic" fill="#111">CXCL8</text>
<text x="634.2" y="388.95" font-size="6.55" font-style="italic" fill="#111">GRAMD1A</text>
<text x="634.2" y="397.14" font-size="6.55" font-style="italic" fill="#111">LILRA1</text>
<text x="634.2" y="405.32" font-size="6.55" font-style="italic" fill="#111">LILRP2</text>
<text x="634.2" y="413.5" font-size="6.55" font-style="italic" fill="#111">IL2RA</text>
<text x="634.2" y="421.69" font-size="6.55" font-style="italic" fill="#111">SERPINB7</text>
<text x="634.2" y="429.87" font-size="6.55" font-style="italic" fill="#111">CCL3</text>
<text x="634.2" y="438.06" font-size="6.55" font-style="italic" fill="#111">IL6</text>
<text x="634.2" y="446.24" font-size="6.55" font-style="italic" fill="#111">CCL4</text>
<text x="634.2" y="454.42" font-size="6.55" font-style="italic" fill="#111">SLAMF1</text>
<text x="634.2" y="462.61" font-size="6.55" font-style="italic" fill="#111">AK4</text>
<rect x="669.1" y="57.1" width="7" height="7.55" fill="#fbf3bc"/>
<rect x="669.1" y="64.35" width="7" height="7.55" fill="#fdd594"/>
<rect x="669.1" y="71.61" width="7" height="7.55" fill="#fbb47b"/>
<rect x="669.1" y="78.86" width="7" height="7.55" fill="#f99366"/>
<rect x="669.1" y="86.11" width="7" height="7.55" fill="#f5735b"/>
<rect x="669.1" y="93.37" width="7" height="7.55" fill="#e95562"/>
<rect x="669.1" y="100.62" width="7" height="7.55" fill="#d4436d"/>
<rect x="669.1" y="107.87" width="7" height="7.55" fill="#b83879"/>
<rect x="669.1" y="115.13" width="7" height="7.55" fill="#982c80"/>
<rect x="669.1" y="122.38" width="7" height="7.55" fill="#7b2382"/>
<rect x="669.1" y="129.63" width="7" height="7.55" fill="#5d1e7c"/>
<rect x="669.1" y="136.89" width="7" height="7.55" fill="#44156f"/>
<rect x="669.1" y="144.14" width="7" height="7.55" fill="#221150"/>
<rect x="669.1" y="151.39" width="7" height="7.55" fill="#0e0a28"/>
<rect x="669.1" y="158.65" width="7" height="7.55" fill="#000004"/>
<text x="678.4" y="73.5" font-size="7.6" fill="#222">2</text>
<text x="678.4" y="93.6" font-size="7.6" fill="#222">1</text>
<text x="678.4" y="115" font-size="7.6" fill="#222">0</text>
<text x="678.4" y="136.7" font-size="7.6" fill="#222">-1</text>
<text x="678.4" y="157.4" font-size="7.6" fill="#222">-2</text>
<text x="639" y="12.1" font-size="7.43" textLength="21.9" lengthAdjust="spacingAndGlyphs" fill="#222">Group</text>
<rect x="639.2" y="14.3" width="9.7" height="11.4" fill="#4bc3cd" stroke="#999" stroke-width="0.6"/>
<rect x="639.2" y="25.7" width="9.7" height="10.8" fill="#f38c86" stroke="#999" stroke-width="0.6"/>
<text x="650.1" y="22.9" font-size="7.71" textLength="25.7" lengthAdjust="spacingAndGlyphs" fill="#222">Control</text>
<text x="650.7" y="34.5" font-size="7.57" textLength="21.5" lengthAdjust="spacingAndGlyphs" fill="#222">FABP7</text>
<path d="M124.4 331.7V684.5M149.35 331.7V684.5M174.3 331.7V684.5M199.25 331.7V684.5M224.2 331.7V684.5M249.15 331.7V684.5M274.1 331.7V684.5M117.5 341.9H279.3M117.5 359.4H279.3M117.5 376.9H279.3M117.5 394.4H279.3M117.5 411.9H279.3M117.5 429.4H279.3M117.5 446.9H279.3M117.5 464.4H279.3M117.5 481.9H279.3M117.5 499.4H279.3M117.5 516.9H279.3M117.5 534.4H279.3M117.5 551.9H279.3M117.5 569.4H279.3M117.5 586.9H279.3M117.5 604.4H279.3M117.5 621.9H279.3M117.5 639.4H279.3M117.5 656.9H279.3M117.5 674.4H279.3" stroke="#ececec" stroke-width="0.7" fill="none"/>
<rect x="117.5" y="331.7" width="161.8" height="352.8" fill="none" stroke="#b8b8b8" stroke-width="0.9"/>
<path d="M115.4 341.9H117.5M115.4 359.4H117.5M115.4 376.9H117.5M115.4 394.4H117.5M115.4 411.9H117.5M115.4 429.4H117.5M115.4 446.9H117.5M115.4 464.4H117.5M115.4 481.9H117.5M115.4 499.4H117.5M115.4 516.9H117.5M115.4 534.4H117.5M115.4 551.9H117.5M115.4 569.4H117.5M115.4 586.9H117.5M115.4 604.4H117.5M115.4 621.9H117.5M115.4 639.4H117.5M115.4 656.9H117.5M115.4 674.4H117.5M124.4 684.5V686.6M174.3 684.5V686.6M224.2 684.5V686.6M274.1 684.5V686.6" stroke="#444" stroke-width="0.8" fill="none"/>
<circle cx="272.2" cy="341.9" r="4.25" fill="#ec2024"/>
<text x="112.7" y="340.3" font-size="8.1" text-anchor="end" fill="#1a1a1a">cellular response to</text>
<text x="112.7" y="347.6" font-size="8.1" text-anchor="end" fill="#1a1a1a">lipopolysaccharide</text>
<circle cx="251.5" cy="359.4" r="4.45" fill="#ec2024"/>
<text x="112.7" y="357.8" font-size="8.1" text-anchor="end" fill="#1a1a1a">cellular response to</text>
<text x="112.7" y="365.1" font-size="8.1" text-anchor="end" fill="#1a1a1a">molecule of bacterial origin</text>
<circle cx="248.7" cy="376.9" r="2.7" fill="#ec2024"/>
<text x="112.7" y="379.2" font-size="8.1" text-anchor="end" fill="#1a1a1a">granulocyte migration</text>
<circle cx="236.25" cy="394.4" r="4.8" fill="#ec2024"/>
<text x="112.7" y="396.7" font-size="8.1" text-anchor="end" fill="#1a1a1a">response to lipopolysaccharide</text>
<circle cx="222" cy="411.9" r="4.7" fill="#ec2024"/>
<text x="112.7" y="410.3" font-size="8.1" text-anchor="end" fill="#1a1a1a">response to molecule of</text>
<text x="112.7" y="417.6" font-size="8.1" text-anchor="end" fill="#1a1a1a">bacterial origin</text>
<circle cx="221.2" cy="429.4" r="4.2" fill="#ec2024"/>
<text x="112.7" y="427.8" font-size="8.1" text-anchor="end" fill="#1a1a1a">cellular response to biotic</text>
<text x="112.7" y="435.1" font-size="8.1" text-anchor="end" fill="#1a1a1a">stimulus</text>
<circle cx="201.5" cy="446.9" r="6.4" fill="#3a52a5"/>
<text x="112.7" y="445.3" font-size="8.1" text-anchor="end" fill="#1a1a1a">G protein-coupled receptor</text>
<text x="112.7" y="452.6" font-size="8.1" text-anchor="end" fill="#1a1a1a">signaling pathway</text>
<circle cx="201.2" cy="464.4" r="4.2" fill="#ec2024"/>
<text x="112.7" y="466.7" font-size="8.1" text-anchor="end" fill="#1a1a1a">cell chemotaxis</text>
<circle cx="192.4" cy="481.9" r="3.6" fill="#ec2024"/>
<text x="112.7" y="484.2" font-size="8.1" text-anchor="end" fill="#1a1a1a">myeloid leukocyte migration</text>
<circle cx="189.6" cy="499.4" r="5.6" fill="#ec2024"/>
<text x="112.7" y="501.7" font-size="8.1" text-anchor="end" fill="#1a1a1a">leukocyte migration</text>
<circle cx="187.7" cy="516.9" r="5.9" fill="#ec2024"/>
<text x="112.7" y="519.2" font-size="8.1" text-anchor="end" fill="#1a1a1a">chemotaxis</text>
<circle cx="186.5" cy="534.4" r="5.9" fill="#ec2024"/>
<text x="112.7" y="536.7" font-size="8.1" text-anchor="end" fill="#1a1a1a">taxis</text>
<circle cx="176.5" cy="551.9" r="6.4" fill="#ec2024"/>
<text x="112.7" y="554.2" font-size="8.1" text-anchor="end" fill="#1a1a1a">inflammatory response</text>
<circle cx="174.3" cy="569.4" r="3.6" fill="#ec2024"/>
<text x="112.7" y="571.7" font-size="8.1" text-anchor="end" fill="#1a1a1a">leukocyte chemotaxis</text>
<circle cx="144.4" cy="586.9" r="5.6" fill="#ec2024"/>
<text x="112.7" y="589.2" font-size="8.1" text-anchor="end" fill="#1a1a1a">response to bacterium</text>
<circle cx="141.6" cy="604.4" r="5.3" fill="#ec2024"/>
<text x="112.7" y="606.7" font-size="8.1" text-anchor="end" fill="#1a1a1a">cellular response to lipid</text>
<circle cx="141.1" cy="621.9" r="2.8" fill="#ec2024"/>
<text x="112.7" y="620.3" font-size="8.1" text-anchor="end" fill="#1a1a1a">cellular response to</text>
<text x="112.7" y="627.6" font-size="8.1" text-anchor="end" fill="#1a1a1a">interleukin-1</text>
<circle cx="135.8" cy="639.4" r="4.2" fill="#ec2024"/>
<text x="112.7" y="637.8" font-size="8.1" text-anchor="end" fill="#1a1a1a">response to tumor necrosis</text>
<text x="112.7" y="645.1" font-size="8.1" text-anchor="end" fill="#1a1a1a">factor</text>
<circle cx="134.4" cy="656.9" r="4.2" fill="#ec2024"/>
<text x="112.7" y="655.3" font-size="8.1" text-anchor="end" fill="#1a1a1a">cellular response to tumor</text>
<text x="112.7" y="662.6" font-size="8.1" text-anchor="end" fill="#1a1a1a">necrosis factor</text>
<circle cx="124.4" cy="674.4" r="3.4" fill="#ec2024"/>
<text x="112.7" y="676.7" font-size="8.1" text-anchor="end" fill="#1a1a1a">response to interleukin-1</text>
<rect x="8.2" y="459.3" width="105.9" height="119.9" fill="none" stroke="#ee4450" stroke-width="0.95"/>
<text x="116.7" y="323.1" font-size="7.86" textLength="62.1" lengthAdjust="spacingAndGlyphs" fill="#262626">Biological Process</text>
<text x="117.3" y="694.7" font-size="7.43" textLength="14.2" lengthAdjust="spacingAndGlyphs" fill="#262626">0.25</text>
<text x="167.2" y="694.7" font-size="7.43" textLength="14.2" lengthAdjust="spacingAndGlyphs" fill="#262626">0.30</text>
<text x="217.1" y="694.7" font-size="7.43" textLength="14.2" lengthAdjust="spacingAndGlyphs" fill="#262626">0.35</text>
<text x="267" y="694.7" font-size="7.43" textLength="14.2" lengthAdjust="spacingAndGlyphs" fill="#262626">0.40</text>
<text x="179.6" y="703.9" font-size="7.14" textLength="37.6" lengthAdjust="spacingAndGlyphs" fill="#262626">GeneRatio</text>
<defs><linearGradient id="pg" x1="0" y1="0" x2="0" y2="1"><stop offset="0" stop-color="#ee2027"/><stop offset="0.3" stop-color="#e0186a"/><stop offset="0.57" stop-color="#b41890"/><stop offset="0.86" stop-color="#6a3aa0"/><stop offset="1" stop-color="#3f55a8"/></linearGradient></defs>
<rect x="290.9" y="433.4" width="12" height="58.1" fill="url(#pg)"/>
<path d="M290.9 450.4h2.2M300.7 450.4h2.2M290.9 466.2h2.2M300.7 466.2h2.2M290.9 483.3h2.2M300.7 483.3h2.2" stroke="#fff" stroke-opacity="0.7" stroke-width="0.7"/>
<text x="290.7" y="428" font-size="7.14" textLength="27.2" lengthAdjust="spacingAndGlyphs" fill="#262626">p.adjust</text>
<text x="304.3" y="453.5" font-size="7.14" textLength="19.8" lengthAdjust="spacingAndGlyphs" fill="#262626">2e-12</text>
<text x="304.3" y="469.4" font-size="7.14" textLength="19.8" lengthAdjust="spacingAndGlyphs" fill="#262626">4e-12</text>
<text x="304.3" y="486.4" font-size="7.14" textLength="19.8" lengthAdjust="spacingAndGlyphs" fill="#262626">6e-12</text>
<text x="288" y="515" font-size="7" textLength="21.1" lengthAdjust="spacingAndGlyphs" fill="#262626">Count</text>
<circle cx="298.7" cy="522.8" r="2.6" fill="#000"/>
<text x="309.3" y="525.3" font-size="6.9" fill="#262626">40</text>
<circle cx="298.7" cy="534.3" r="4.35" fill="#000"/>
<text x="309.3" y="536.8" font-size="6.9" fill="#262626">60</text>
<circle cx="298.7" cy="546" r="4.75" fill="#000"/>
<text x="309.3" y="548.5" font-size="6.9" fill="#262626">80</text>
<circle cx="298.7" cy="558.4" r="5.5" fill="#000"/>
<text x="309.3" y="560.9" font-size="6.9" fill="#262626">100</text>
<circle cx="298.7" cy="571.7" r="5.9" fill="#000"/>
<text x="309.3" y="574.2" font-size="6.9" fill="#262626">120</text>
<circle cx="298.7" cy="586.5" r="6.5" fill="#000"/>
<text x="309.3" y="589" font-size="6.9" fill="#262626">140</text>
<rect x="343.9" y="527.9" width="331.7" height="12.1" fill="#cfeaef"/>
<rect x="343.9" y="543.1" width="317.7" height="12.1" fill="#cfeaef"/>
<rect x="343.9" y="558.3" width="168.3" height="12.1" fill="#8ed1d2"/>
<rect x="343.9" y="573.5" width="163.3" height="12.1" fill="#8ed1d2"/>
<rect x="343.9" y="588.7" width="128.4" height="12.1" fill="#7cc6c6"/>
<rect x="343.9" y="603.9" width="78.7" height="12.1" fill="#6cbdbd"/>
<rect x="343.9" y="619.1" width="74.1" height="12.1" fill="#6cbdbd"/>
<rect x="343.9" y="634.3" width="59.3" height="12.1" fill="#6cbdbd"/>
<rect x="343.9" y="649.5" width="32.9" height="12.1" fill="#6cbdbd"/>
<rect x="343.9" y="664.7" width="32.9" height="12.1" fill="#6cbdbd"/>
<text x="345.6" y="536.8" font-size="7.6" fill="#141414" textLength="316.7" lengthAdjust="spacingAndGlyphs">superpathway of conversion of glucose to acetyl CoA and entry into the TCA cycle Homo sapiens PWY66-407</text>
<text x="345.6" y="552" font-size="7.6" fill="#141414" textLength="150.2" lengthAdjust="spacingAndGlyphs">fatty acid &amp;beta;-oxidation Homo sapiens FAO-PWY</text>
<text x="345.6" y="567.2" font-size="7.6" fill="#141414" textLength="105.8" lengthAdjust="spacingAndGlyphs">TCA cycle Homo sapiens PWY66-398</text>
<text x="345.6" y="582.4" font-size="7.6" fill="#141414" textLength="150.4" lengthAdjust="spacingAndGlyphs">leukotriene biosynthesis Homo sapiens PWY66-375</text>
<text x="345.6" y="597.6" font-size="7.6" fill="#141414" textLength="132.3" lengthAdjust="spacingAndGlyphs">fatty acid activation Homo sapiens PWY-5143</text>
<text x="345.6" y="612.8" font-size="7.6" fill="#141414" textLength="156.5" lengthAdjust="spacingAndGlyphs">tyrosine degradation Homo sapiens TYRFUMCAT-PWY</text>
<text x="345.6" y="628" font-size="7.6" fill="#141414" textLength="320.2" lengthAdjust="spacingAndGlyphs">dolichyl-diphosphooligosaccharide biosynthesis Homo sapiens MANNOSYL-CHITO-DOLICHOL-BIOSYNTHESIS</text>
<text x="345.6" y="643.2" font-size="7.6" fill="#141414" textLength="179.7" lengthAdjust="spacingAndGlyphs">glutathione-mediated detoxification Homo sapiens PWY-4061</text>
<text x="345.6" y="658.4" font-size="7.6" fill="#141414" textLength="153.4" lengthAdjust="spacingAndGlyphs">isoleucine degradation Homo sapiens ILEUDEG-PWY</text>
<text x="345.6" y="673.6" font-size="7.6" fill="#141414" textLength="136.8" lengthAdjust="spacingAndGlyphs">stearate biosynthesis Homo sapiens PWY-5972</text>
<path d="M473.52 44.2V40.4H488.4V44.2M458.64 44.2V39.4H480.96V40.4M518.16 44.2V39.4H533.04V44.2M503.28 44.2V37.5H525.6V39.4M469.8 39.4V33.6H514.44V37.5M550.84 44.2V35H565.72V44.2M580.6 44.2V36.2H595.48V44.2M610.36 44.2V27.7H625.24V44.2M588.04 36.2V25.4H617.8V27.7M558.28 35V21.3H602.92V25.4M492.12 33.6V4.4H580.6V21.3" stroke="#111" stroke-width="0.9" fill="none"/>
<path d="M451.2 66.58H446.5V74.76H451.2M451.2 58.39H444.3V70.67H446.5M451.2 82.94H443.3V91.13H451.2M444.3 64.53H436.3V87.04H443.3M451.2 99.31H445.2V107.5H451.2M451.2 123.86H446.5V132.05H451.2M451.2 140.23H446.5V148.42H451.2M446.5 127.96H444.5V144.32H446.5M451.2 115.68H442.2V136.14H444.5M451.2 164.78H449V172.97H451.2M451.2 156.6H445.6V168.88H449M451.2 181.15H443.9V189.34H451.2M445.6 162.74H441.4V185.24H443.9M442.2 125.91H440.5V173.99H441.4M445.2 103.4H435.2V149.95H440.5M451.2 213.89H449.5V222.07H451.2M451.2 238.44H450V246.62H451.2M451.2 230.26H447.6V242.53H450M449.5 217.98H446.3V236.39H447.6M451.2 205.7H443.8V227.19H446.3M451.2 197.52H437.4V216.45H443.8M451.2 262.99H446.3V271.18H451.2M451.2 279.36H449V287.54H451.2M451.2 303.91H449.5V312.1H451.2M451.2 295.73H447.5V308H449.5M449 283.45H447V301.87H447.5M451.2 320.28H446.3V328.46H451.2M447 292.66H443.4V324.37H446.3M446.3 267.08H442.5V308.52H443.4M451.2 254.81H439.3V287.8H442.5M451.2 353.02H449V361.2H451.2M451.2 369.38H448V377.57H451.2M449 357.11H447V373.48H448M451.2 344.83H445.5V365.29H447M451.2 336.65H443.3V355.06H445.5M451.2 393.94H448V402.12H451.2M451.2 385.75H445.4V398.03H448M451.2 418.49H447V426.67H451.2M451.2 434.86H449V443.04H451.2M451.2 451.22H449.5V459.41H451.2M449 438.95H446V455.32H449.5M447 422.58H444V447.13H446M451.2 410.3H442V434.86H444M445.4 391.89H440.1V422.58H442M443.3 345.86H434.4V407.24H440.1M439.3 271.3H431.4V376.55H434.4M437.4 206.98H428.8V323.92H431.4M435.2 126.68H428.4V265.45H428.8M436.3 75.78H414.2V196.07H428.4" stroke="#111" stroke-width="0.9" fill="none"/>
<text x="0.3" y="6.2" font-size="12" font-weight="bold" fill="#000">a</text>
<text x="409.6" y="8.8" font-size="12" font-weight="bold" fill="#000">b</text>
<text x="-0.6" y="320.9" font-size="11.5" font-weight="bold" fill="#000">c</text>
<text x="339.8" y="508.7" font-size="10.8" font-weight="bold" fill="#000">d</text>
</svg></body></html>
